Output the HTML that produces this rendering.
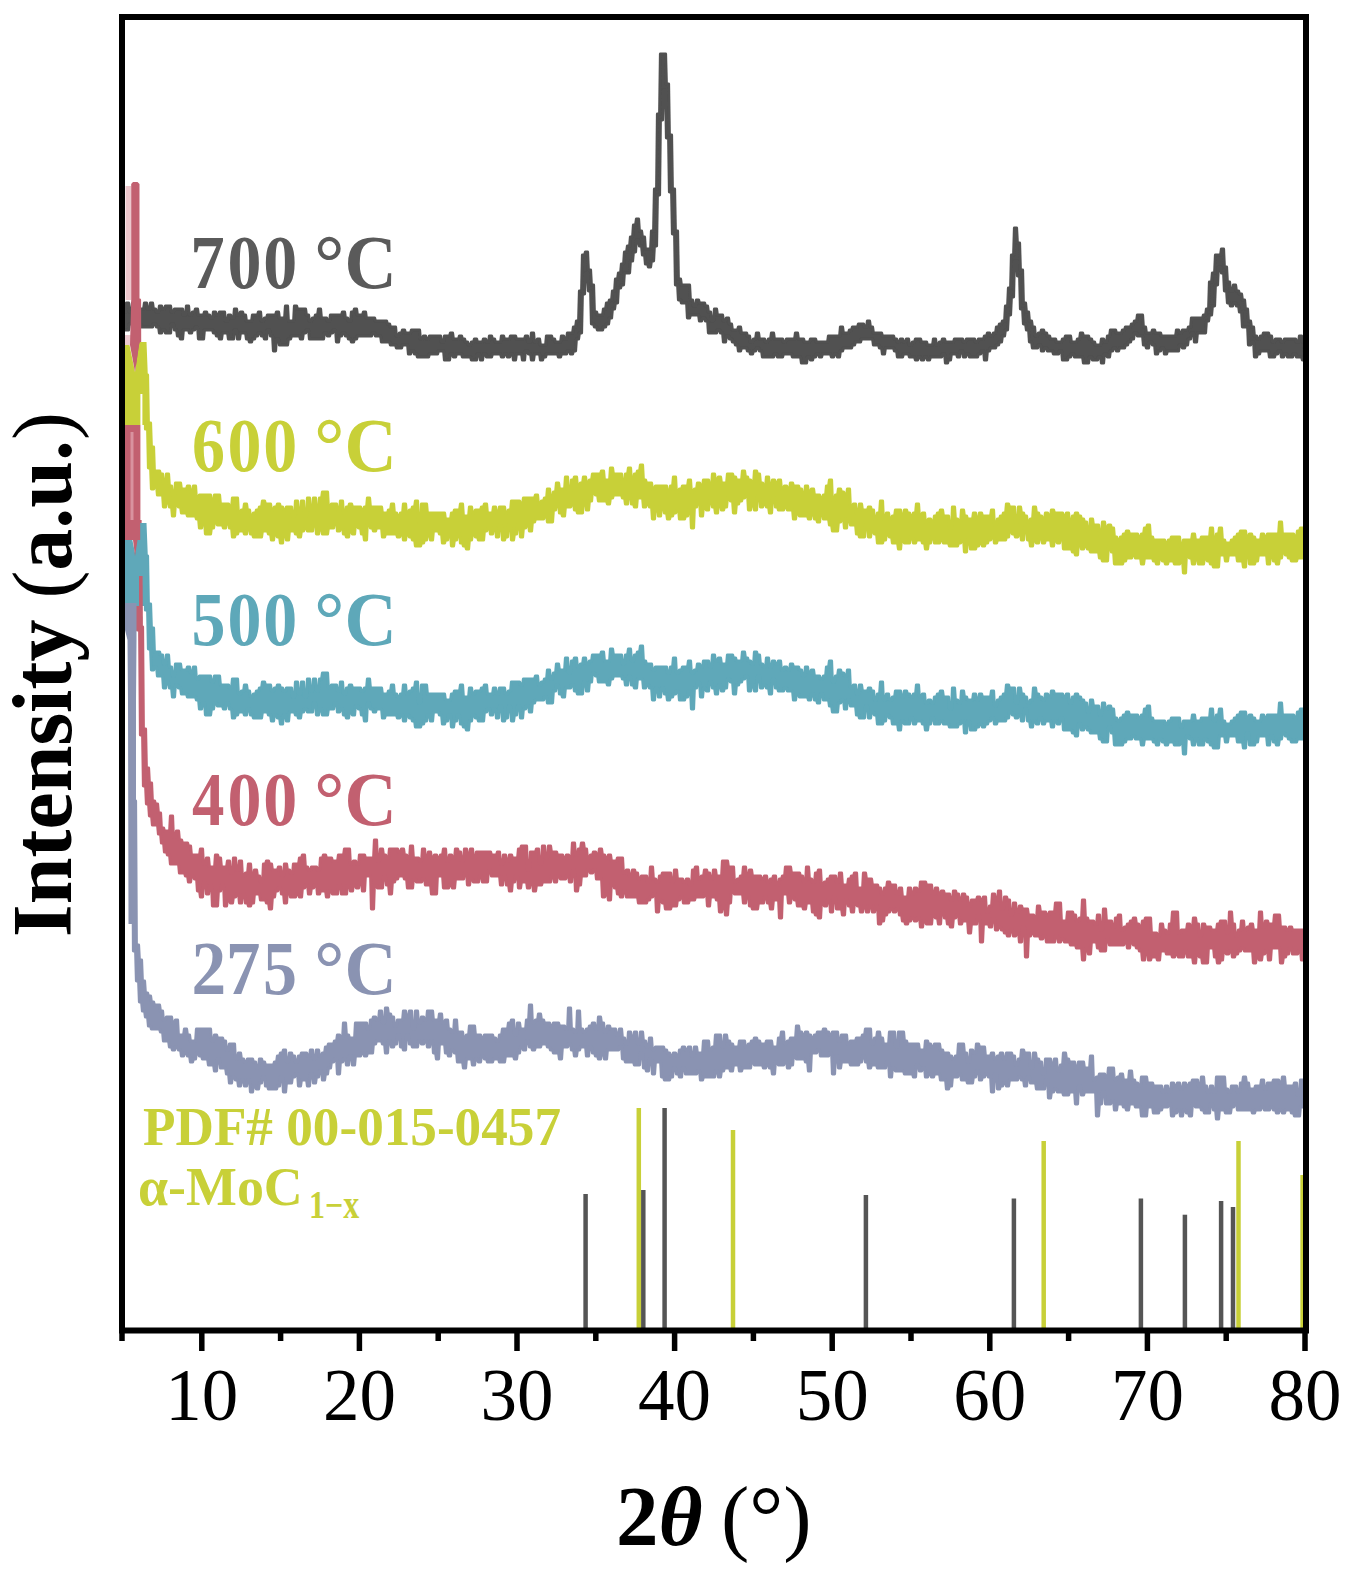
<!DOCTYPE html>
<html><head><meta charset="utf-8"><style>
html,body{margin:0;padding:0;background:#fff;}
svg{display:block;}
text{font-family:"Liberation Serif",serif;}
.tl{font-size:73px;}
.lab{font-size:76px;font-weight:bold;}
</style></head><body>
<svg width="1353" height="1581" viewBox="0 0 1353 1581">
<rect width="1353" height="1581" fill="#fff"/>
<defs><filter id="bl" x="-2%" y="-2%" width="104%" height="104%"><feGaussianBlur stdDeviation="0.6"/></filter><clipPath id="pc"><rect x="122" y="17" width="1184" height="1314"/></clipPath></defs>
<g clip-path="url(#pc)"><g filter="url(#bl)" stroke-linejoin="round">
<path d="M123.4,312.0 125.6,312.0 126.4,303.0 128.6,303.0 129.4,312.0 131.6,312.0 132.4,303.0 134.6,303.0 135.4,303.0 137.6,303.0 138.4,309.0 140.6,309.0 141.4,309.0 143.6,309.0 144.4,303.0 146.6,303.0 147.4,309.0 149.6,309.0 150.4,303.0 152.6,303.0 153.4,309.0 155.6,309.0 156.4,312.0 158.6,312.0 159.4,306.0 161.6,306.0 162.4,309.0 164.6,309.0 165.4,306.0 167.6,306.0 168.4,306.0 170.6,306.0 171.4,312.0 173.6,312.0 174.4,309.0 176.6,309.0 177.4,309.0 179.6,309.0 180.4,309.0 182.6,309.0 183.4,315.0 185.6,315.0 186.4,306.0 188.6,306.0 189.4,315.0 191.6,315.0 192.4,312.0 194.6,312.0 195.4,309.0 197.6,309.0 198.4,315.0 200.6,315.0 201.4,315.0 203.6,315.0 204.4,312.0 206.6,312.0 207.4,315.0 209.6,315.0 210.4,318.0 212.6,318.0 213.4,312.0 215.6,312.0 216.4,315.0 218.6,315.0 219.4,312.0 221.6,312.0 222.4,312.0 224.6,312.0 225.4,321.0 227.6,321.0 228.4,315.0 230.6,315.0 231.4,318.0 233.6,318.0 234.4,309.0 236.6,309.0 237.4,315.0 239.6,315.0 240.4,312.0 242.6,312.0 243.4,315.0 245.6,315.0 246.4,321.0 248.6,321.0 249.4,321.0 251.6,321.0 252.4,315.0 254.6,315.0 255.4,315.0 257.6,315.0 258.4,312.0 260.6,312.0 261.4,321.0 263.6,321.0 264.4,318.0 266.6,318.0 267.4,315.0 269.6,315.0 270.4,315.0 272.6,315.0 273.4,315.0 275.6,315.0 276.4,312.0 278.6,312.0 279.4,318.0 281.6,318.0 282.4,318.0 284.6,318.0 285.4,306.0 287.6,306.0 288.4,321.0 290.6,321.0 291.4,321.0 293.6,321.0 294.4,306.0 296.6,306.0 297.4,309.0 299.6,309.0 300.4,309.0 302.6,309.0 303.4,309.0 305.6,309.0 306.4,315.0 308.6,315.0 309.4,321.0 311.6,321.0 312.4,318.0 314.6,318.0 315.4,315.0 317.6,315.0 318.4,309.0 320.6,309.0 321.4,318.0 323.6,318.0 324.4,318.0 326.6,318.0 327.4,321.0 329.6,321.0 330.4,315.0 332.6,315.0 333.4,315.0 335.6,315.0 336.4,315.0 338.6,315.0 339.4,315.0 341.6,315.0 342.4,312.0 344.6,312.0 345.4,318.0 347.6,318.0 348.4,321.0 350.6,321.0 351.4,312.0 353.6,312.0 354.4,309.0 356.6,309.0 357.4,315.0 359.6,315.0 360.4,315.0 362.6,315.0 363.4,312.0 365.6,312.0 366.4,318.0 368.6,318.0 369.4,318.0 371.6,318.0 372.4,318.0 374.6,318.0 375.4,321.0 377.6,321.0 378.4,321.0 380.6,321.0 381.4,321.0 383.6,321.0 384.4,321.0 386.6,321.0 387.4,324.0 389.6,324.0 390.4,327.0 392.6,327.0 393.4,327.0 395.6,327.0 396.4,336.0 398.6,336.0 399.4,333.0 401.6,333.0 402.4,330.0 404.6,330.0 405.4,333.0 407.6,333.0 408.4,333.0 410.6,333.0 411.4,330.0 413.6,330.0 414.4,330.0 416.6,330.0 417.4,330.0 419.6,330.0 420.4,339.0 422.6,339.0 423.4,336.0 425.6,336.0 426.4,339.0 428.6,339.0 429.4,336.0 431.6,336.0 432.4,336.0 434.6,336.0 435.4,336.0 437.6,336.0 438.4,336.0 440.6,336.0 441.4,342.0 443.6,342.0 444.4,336.0 446.6,336.0 447.4,336.0 449.6,336.0 450.4,333.0 452.6,333.0 453.4,339.0 455.6,339.0 456.4,339.0 458.6,339.0 459.4,336.0 461.6,336.0 462.4,339.0 464.6,339.0 465.4,342.0 467.6,342.0 468.4,345.0 470.6,345.0 471.4,342.0 473.6,342.0 474.4,339.0 476.6,339.0 477.4,342.0 479.6,342.0 480.4,342.0 482.6,342.0 483.4,339.0 485.6,339.0 486.4,342.0 488.6,342.0 489.4,336.0 491.6,336.0 492.4,339.0 494.6,339.0 495.4,342.0 497.6,342.0 498.4,342.0 500.6,342.0 501.4,336.0 503.6,336.0 504.4,339.0 506.6,339.0 507.4,339.0 509.6,339.0 510.4,336.0 512.6,336.0 513.4,336.0 515.6,336.0 516.4,339.0 518.6,339.0 519.4,339.0 521.6,339.0 522.4,339.0 524.6,339.0 525.4,336.0 527.6,336.0 528.4,342.0 530.6,342.0 531.4,333.0 533.6,333.0 534.4,342.0 536.6,342.0 537.4,339.0 539.6,339.0 540.4,345.0 542.6,345.0 543.4,345.0 545.6,345.0 546.4,336.0 548.6,336.0 549.4,336.0 551.6,336.0 552.4,339.0 554.6,339.0 555.4,342.0 557.6,342.0 558.4,342.0 560.6,342.0 561.4,336.0 563.6,336.0 564.4,339.0 566.6,339.0 567.4,333.0 569.6,333.0 570.4,333.0 572.6,333.0 573.4,327.0 575.6,327.0 576.4,321.0 578.6,321.0 579.4,291.0 581.6,291.0 582.4,255.0 584.6,255.0 585.4,252.0 587.6,252.0 588.4,270.0 590.6,270.0 591.4,285.0 593.6,285.0 594.4,312.0 596.6,312.0 597.4,315.0 599.6,315.0 600.4,315.0 602.6,315.0 603.4,309.0 605.6,309.0 606.4,303.0 608.6,303.0 609.4,300.0 611.6,300.0 612.4,291.0 614.6,291.0 615.4,279.0 617.6,279.0 618.4,273.0 620.6,273.0 621.4,264.0 623.6,264.0 624.4,252.0 626.6,252.0 627.4,246.0 629.6,246.0 630.4,237.0 632.6,237.0 633.4,225.0 635.6,225.0 636.4,219.0 638.6,219.0 639.4,231.0 641.6,231.0 642.4,237.0 644.6,237.0 645.4,249.0 647.6,249.0 648.4,249.0 650.6,249.0 651.4,231.0 653.6,231.0 654.4,189.0 656.6,189.0 657.4,114.0 659.6,114.0 660.4,54.0 662.6,54.0 663.4,54.0 665.6,54.0 666.4,84.0 668.6,84.0 669.4,135.0 671.6,135.0 672.4,189.0 674.6,189.0 675.4,231.0 677.6,231.0 678.4,279.0 680.6,279.0 681.4,285.0 683.6,285.0 684.4,285.0 686.6,285.0 687.4,285.0 689.6,285.0 690.4,300.0 692.6,300.0 693.4,306.0 695.6,306.0 696.4,300.0 698.6,300.0 699.4,303.0 701.6,303.0 702.4,303.0 704.6,303.0 705.4,306.0 707.6,306.0 708.4,312.0 710.6,312.0 711.4,321.0 713.6,321.0 714.4,309.0 716.6,309.0 717.4,315.0 719.6,315.0 720.4,315.0 722.6,315.0 723.4,321.0 725.6,321.0 726.4,318.0 728.6,318.0 729.4,324.0 731.6,324.0 732.4,330.0 734.6,330.0 735.4,330.0 737.6,330.0 738.4,327.0 740.6,327.0 741.4,333.0 743.6,333.0 744.4,333.0 746.6,333.0 747.4,336.0 749.6,336.0 750.4,342.0 752.6,342.0 753.4,339.0 755.6,339.0 756.4,333.0 758.6,333.0 759.4,339.0 761.6,339.0 762.4,339.0 764.6,339.0 765.4,342.0 767.6,342.0 768.4,339.0 770.6,339.0 771.4,333.0 773.6,333.0 774.4,339.0 776.6,339.0 777.4,339.0 779.6,339.0 780.4,339.0 782.6,339.0 783.4,342.0 785.6,342.0 786.4,339.0 788.6,339.0 789.4,339.0 791.6,339.0 792.4,339.0 794.6,339.0 795.4,333.0 797.6,333.0 798.4,339.0 800.6,339.0 801.4,339.0 803.6,339.0 804.4,342.0 806.6,342.0 807.4,342.0 809.6,342.0 810.4,339.0 812.6,339.0 813.4,339.0 815.6,339.0 816.4,342.0 818.6,342.0 819.4,342.0 821.6,342.0 822.4,342.0 824.6,342.0 825.4,342.0 827.6,342.0 828.4,336.0 830.6,336.0 831.4,336.0 833.6,336.0 834.4,336.0 836.6,336.0 837.4,336.0 839.6,336.0 840.4,327.0 842.6,327.0 843.4,333.0 845.6,333.0 846.4,333.0 848.6,333.0 849.4,330.0 851.6,330.0 852.4,327.0 854.6,327.0 855.4,327.0 857.6,327.0 858.4,324.0 860.6,324.0 861.4,324.0 863.6,324.0 864.4,327.0 866.6,327.0 867.4,321.0 869.6,321.0 870.4,327.0 872.6,327.0 873.4,333.0 875.6,333.0 876.4,333.0 878.6,333.0 879.4,333.0 881.6,333.0 882.4,336.0 884.6,336.0 885.4,336.0 887.6,336.0 888.4,336.0 890.6,336.0 891.4,336.0 893.6,336.0 894.4,339.0 896.6,339.0 897.4,342.0 899.6,342.0 900.4,339.0 902.6,339.0 903.4,342.0 905.6,342.0 906.4,339.0 908.6,339.0 909.4,345.0 911.6,345.0 912.4,342.0 914.6,342.0 915.4,339.0 917.6,339.0 918.4,339.0 920.6,339.0 921.4,342.0 923.6,342.0 924.4,342.0 926.6,342.0 927.4,345.0 929.6,345.0 930.4,345.0 932.6,345.0 933.4,339.0 935.6,339.0 936.4,345.0 938.6,345.0 939.4,342.0 941.6,342.0 942.4,339.0 944.6,339.0 945.4,342.0 947.6,342.0 948.4,342.0 950.6,342.0 951.4,342.0 953.6,342.0 954.4,339.0 956.6,339.0 957.4,339.0 959.6,339.0 960.4,339.0 962.6,339.0 963.4,342.0 965.6,342.0 966.4,339.0 968.6,339.0 969.4,339.0 971.6,339.0 972.4,339.0 974.6,339.0 975.4,342.0 977.6,342.0 978.4,339.0 980.6,339.0 981.4,339.0 983.6,339.0 984.4,336.0 986.6,336.0 987.4,333.0 989.6,333.0 990.4,336.0 992.6,336.0 993.4,333.0 995.6,333.0 996.4,327.0 998.6,327.0 999.4,324.0 1001.6,324.0 1002.4,321.0 1004.6,321.0 1005.4,306.0 1007.6,306.0 1008.4,288.0 1010.6,288.0 1011.4,255.0 1013.6,255.0 1014.4,228.0 1016.6,228.0 1017.4,243.0 1019.6,243.0 1020.4,270.0 1022.6,270.0 1023.4,303.0 1025.6,303.0 1026.4,312.0 1028.6,312.0 1029.4,321.0 1031.6,321.0 1032.4,327.0 1034.6,327.0 1035.4,336.0 1037.6,336.0 1038.4,333.0 1040.6,333.0 1041.4,330.0 1043.6,330.0 1044.4,333.0 1046.6,333.0 1047.4,336.0 1049.6,336.0 1050.4,339.0 1052.6,339.0 1053.4,339.0 1055.6,339.0 1056.4,342.0 1058.6,342.0 1059.4,342.0 1061.6,342.0 1062.4,339.0 1064.6,339.0 1065.4,336.0 1067.6,336.0 1068.4,336.0 1070.6,336.0 1071.4,342.0 1073.6,342.0 1074.4,342.0 1076.6,342.0 1077.4,339.0 1079.6,339.0 1080.4,333.0 1082.6,333.0 1083.4,336.0 1085.6,336.0 1086.4,336.0 1088.6,336.0 1089.4,339.0 1091.6,339.0 1092.4,342.0 1094.6,342.0 1095.4,345.0 1097.6,345.0 1098.4,345.0 1100.6,345.0 1101.4,339.0 1103.6,339.0 1104.4,342.0 1106.6,342.0 1107.4,336.0 1109.6,336.0 1110.4,330.0 1112.6,330.0 1113.4,330.0 1115.6,330.0 1116.4,333.0 1118.6,333.0 1119.4,333.0 1121.6,333.0 1122.4,330.0 1124.6,330.0 1125.4,327.0 1127.6,327.0 1128.4,327.0 1130.6,327.0 1131.4,324.0 1133.6,324.0 1134.4,321.0 1136.6,321.0 1137.4,315.0 1139.6,315.0 1140.4,315.0 1142.6,315.0 1143.4,327.0 1145.6,327.0 1146.4,333.0 1148.6,333.0 1149.4,333.0 1151.6,333.0 1152.4,330.0 1154.6,330.0 1155.4,333.0 1157.6,333.0 1158.4,333.0 1160.6,333.0 1161.4,336.0 1163.6,336.0 1164.4,336.0 1166.6,336.0 1167.4,336.0 1169.6,336.0 1170.4,336.0 1172.6,336.0 1173.4,336.0 1175.6,336.0 1176.4,330.0 1178.6,330.0 1179.4,333.0 1181.6,333.0 1182.4,330.0 1184.6,330.0 1185.4,330.0 1187.6,330.0 1188.4,327.0 1190.6,327.0 1191.4,318.0 1193.6,318.0 1194.4,318.0 1196.6,318.0 1197.4,318.0 1199.6,318.0 1200.4,318.0 1202.6,318.0 1203.4,315.0 1205.6,315.0 1206.4,309.0 1208.6,309.0 1209.4,282.0 1211.6,282.0 1212.4,273.0 1214.6,273.0 1215.4,255.0 1217.6,255.0 1218.4,255.0 1220.6,255.0 1221.4,249.0 1223.6,249.0 1224.4,267.0 1226.6,267.0 1227.4,282.0 1229.6,282.0 1230.4,291.0 1232.6,291.0 1233.4,285.0 1235.6,285.0 1236.4,291.0 1238.6,291.0 1239.4,294.0 1241.6,294.0 1242.4,300.0 1244.6,300.0 1245.4,309.0 1247.6,309.0 1248.4,321.0 1250.6,321.0 1251.4,327.0 1253.6,327.0 1254.4,336.0 1256.6,336.0 1257.4,339.0 1259.6,339.0 1260.4,336.0 1262.6,336.0 1263.4,333.0 1265.6,333.0 1266.4,333.0 1268.6,333.0 1269.4,336.0 1271.6,336.0 1272.4,342.0 1274.6,342.0 1275.4,339.0 1277.6,339.0 1278.4,339.0 1280.6,339.0 1281.4,342.0 1283.6,342.0 1284.4,339.0 1286.6,339.0 1287.4,339.0 1289.6,339.0 1290.4,339.0 1292.6,339.0 1293.4,339.0 1295.6,339.0 1296.4,342.0 1298.6,342.0 1299.4,336.0 1301.6,336.0 1302.4,342.0 1304.6,342.0 1304.4,342.0 1305.6,342.0 1305.6,348.0 1304.4,348.0 1304.6,360.0 1302.4,360.0 1301.6,357.0 1299.4,357.0 1298.6,357.0 1296.4,357.0 1295.6,354.0 1293.4,354.0 1292.6,357.0 1290.4,357.0 1289.6,357.0 1287.4,357.0 1286.6,354.0 1284.4,354.0 1283.6,357.0 1281.4,357.0 1280.6,351.0 1278.4,351.0 1277.6,354.0 1275.4,354.0 1274.6,357.0 1272.4,357.0 1271.6,357.0 1269.4,357.0 1268.6,351.0 1266.4,351.0 1265.6,351.0 1263.4,351.0 1262.6,351.0 1260.4,351.0 1259.6,354.0 1257.4,354.0 1256.6,357.0 1254.4,357.0 1253.6,342.0 1251.4,342.0 1250.6,345.0 1248.4,345.0 1247.6,327.0 1245.4,327.0 1244.6,327.0 1242.4,327.0 1241.6,312.0 1239.4,312.0 1238.6,306.0 1236.4,306.0 1235.6,303.0 1233.4,303.0 1232.6,306.0 1230.4,306.0 1229.6,303.0 1227.4,303.0 1226.6,291.0 1224.4,291.0 1223.6,273.0 1221.4,273.0 1220.6,267.0 1218.4,267.0 1217.6,285.0 1215.4,285.0 1214.6,306.0 1212.4,306.0 1211.6,315.0 1209.4,315.0 1208.6,321.0 1206.4,321.0 1205.6,333.0 1203.4,333.0 1202.6,333.0 1200.4,333.0 1199.6,333.0 1197.4,333.0 1196.6,342.0 1194.4,342.0 1193.6,333.0 1191.4,333.0 1190.6,339.0 1188.4,339.0 1187.6,345.0 1185.4,345.0 1184.6,348.0 1182.4,348.0 1181.6,345.0 1179.4,345.0 1178.6,351.0 1176.4,351.0 1175.6,351.0 1173.4,351.0 1172.6,351.0 1170.4,351.0 1169.6,351.0 1167.4,351.0 1166.6,354.0 1164.4,354.0 1163.6,348.0 1161.4,348.0 1160.6,351.0 1158.4,351.0 1157.6,354.0 1155.4,354.0 1154.6,345.0 1152.4,345.0 1151.6,342.0 1149.4,342.0 1148.6,348.0 1146.4,348.0 1145.6,345.0 1143.4,345.0 1142.6,336.0 1140.4,336.0 1139.6,336.0 1137.4,336.0 1136.6,333.0 1134.4,333.0 1133.6,339.0 1131.4,339.0 1130.6,342.0 1128.4,342.0 1127.6,345.0 1125.4,345.0 1124.6,348.0 1122.4,348.0 1121.6,348.0 1119.4,348.0 1118.6,351.0 1116.4,351.0 1115.6,348.0 1113.4,348.0 1112.6,351.0 1110.4,351.0 1109.6,357.0 1107.4,357.0 1106.6,354.0 1104.4,354.0 1103.6,363.0 1101.4,363.0 1100.6,357.0 1098.4,357.0 1097.6,360.0 1095.4,360.0 1094.6,360.0 1092.4,360.0 1091.6,357.0 1089.4,357.0 1088.6,363.0 1086.4,363.0 1085.6,363.0 1083.4,363.0 1082.6,357.0 1080.4,357.0 1079.6,357.0 1077.4,357.0 1076.6,357.0 1074.4,357.0 1073.6,354.0 1071.4,354.0 1070.6,357.0 1068.4,357.0 1067.6,360.0 1065.4,360.0 1064.6,360.0 1062.4,360.0 1061.6,351.0 1059.4,351.0 1058.6,354.0 1056.4,354.0 1055.6,354.0 1053.4,354.0 1052.6,351.0 1050.4,351.0 1049.6,351.0 1047.4,351.0 1046.6,348.0 1044.4,348.0 1043.6,351.0 1041.4,351.0 1040.6,345.0 1038.4,345.0 1037.6,348.0 1035.4,348.0 1034.6,348.0 1032.4,348.0 1031.6,342.0 1029.4,342.0 1028.6,330.0 1026.4,330.0 1025.6,324.0 1023.4,324.0 1022.6,309.0 1020.4,309.0 1019.6,276.0 1017.4,276.0 1016.6,261.0 1014.4,261.0 1013.6,297.0 1011.4,297.0 1010.6,315.0 1008.4,315.0 1007.6,330.0 1005.4,330.0 1004.6,336.0 1002.4,336.0 1001.6,342.0 999.4,342.0 998.6,345.0 996.4,345.0 995.6,348.0 993.4,348.0 992.6,348.0 990.4,348.0 989.6,351.0 987.4,351.0 986.6,360.0 984.4,360.0 983.6,351.0 981.4,351.0 980.6,354.0 978.4,354.0 977.6,357.0 975.4,357.0 974.6,357.0 972.4,357.0 971.6,357.0 969.4,357.0 968.6,354.0 966.4,354.0 965.6,357.0 963.4,357.0 962.6,351.0 960.4,351.0 959.6,357.0 957.4,357.0 956.6,354.0 954.4,354.0 953.6,354.0 951.4,354.0 950.6,360.0 948.4,360.0 947.6,363.0 945.4,363.0 944.6,354.0 942.4,354.0 941.6,357.0 939.4,357.0 938.6,357.0 936.4,357.0 935.6,357.0 933.4,357.0 932.6,357.0 930.4,357.0 929.6,360.0 927.4,360.0 926.6,357.0 924.4,357.0 923.6,360.0 921.4,360.0 920.6,357.0 918.4,357.0 917.6,360.0 915.4,360.0 914.6,357.0 912.4,357.0 911.6,357.0 909.4,357.0 908.6,354.0 906.4,354.0 905.6,354.0 903.4,354.0 902.6,357.0 900.4,357.0 899.6,357.0 897.4,357.0 896.6,351.0 894.4,351.0 893.6,348.0 891.4,348.0 890.6,348.0 888.4,348.0 887.6,348.0 885.4,348.0 884.6,354.0 882.4,354.0 881.6,348.0 879.4,348.0 878.6,345.0 876.4,345.0 875.6,345.0 873.4,345.0 872.6,339.0 870.4,339.0 869.6,339.0 867.4,339.0 866.6,339.0 864.4,339.0 863.6,339.0 861.4,339.0 860.6,342.0 858.4,342.0 857.6,342.0 855.4,342.0 854.6,345.0 852.4,345.0 851.6,348.0 849.4,348.0 848.6,348.0 846.4,348.0 845.6,348.0 843.4,348.0 842.6,351.0 840.4,351.0 839.6,357.0 837.4,357.0 836.6,354.0 834.4,354.0 833.6,357.0 831.4,357.0 830.6,354.0 828.4,354.0 827.6,354.0 825.4,354.0 824.6,354.0 822.4,354.0 821.6,357.0 819.4,357.0 818.6,354.0 816.4,354.0 815.6,357.0 813.4,357.0 812.6,360.0 810.4,360.0 809.6,357.0 807.4,357.0 806.6,363.0 804.4,363.0 803.6,363.0 801.4,363.0 800.6,357.0 798.4,357.0 797.6,357.0 795.4,357.0 794.6,357.0 792.4,357.0 791.6,354.0 789.4,354.0 788.6,354.0 786.4,354.0 785.6,354.0 783.4,354.0 782.6,357.0 780.4,357.0 779.6,357.0 777.4,357.0 776.6,354.0 774.4,354.0 773.6,357.0 771.4,357.0 770.6,357.0 768.4,357.0 767.6,357.0 765.4,357.0 764.6,357.0 762.4,357.0 761.6,351.0 759.4,351.0 758.6,348.0 756.4,348.0 755.6,351.0 753.4,351.0 752.6,354.0 750.4,354.0 749.6,351.0 747.4,351.0 746.6,348.0 744.4,348.0 743.6,348.0 741.4,348.0 740.6,351.0 738.4,351.0 737.6,345.0 735.4,345.0 734.6,342.0 732.4,342.0 731.6,339.0 729.4,339.0 728.6,336.0 726.4,336.0 725.6,342.0 723.4,342.0 722.6,333.0 720.4,333.0 719.6,330.0 717.4,330.0 716.6,333.0 714.4,333.0 713.6,333.0 711.4,333.0 710.6,333.0 708.4,333.0 707.6,321.0 705.4,321.0 704.6,318.0 702.4,318.0 701.6,321.0 699.4,321.0 698.6,315.0 696.4,315.0 695.6,315.0 693.4,315.0 692.6,315.0 690.4,315.0 689.6,318.0 687.4,318.0 686.6,303.0 684.4,303.0 683.6,303.0 681.4,303.0 680.6,300.0 678.4,300.0 677.6,285.0 675.4,285.0 674.6,234.0 672.4,234.0 671.6,192.0 669.4,192.0 668.6,138.0 666.4,138.0 665.6,90.0 663.4,90.0 662.6,120.0 660.4,120.0 659.6,195.0 657.4,195.0 656.6,246.0 654.4,246.0 653.6,261.0 651.4,261.0 650.6,267.0 648.4,267.0 647.6,264.0 645.4,264.0 644.6,255.0 642.4,255.0 641.6,246.0 639.4,246.0 638.6,240.0 636.4,240.0 635.6,252.0 633.4,252.0 632.6,261.0 630.4,261.0 629.6,273.0 627.4,273.0 626.6,273.0 624.4,273.0 623.6,285.0 621.4,285.0 620.6,288.0 618.4,288.0 617.6,303.0 615.4,303.0 614.6,309.0 612.4,309.0 611.6,318.0 609.4,318.0 608.6,324.0 606.4,324.0 605.6,327.0 603.4,327.0 602.6,330.0 600.4,330.0 599.6,330.0 597.4,330.0 596.6,327.0 594.4,327.0 593.6,324.0 591.4,324.0 590.6,291.0 588.4,291.0 587.6,273.0 585.4,273.0 584.6,294.0 582.4,294.0 581.6,333.0 579.4,333.0 578.6,339.0 576.4,339.0 575.6,351.0 573.4,351.0 572.6,354.0 570.4,354.0 569.6,351.0 567.4,351.0 566.6,354.0 564.4,354.0 563.6,354.0 561.4,354.0 560.6,357.0 558.4,357.0 557.6,354.0 555.4,354.0 554.6,354.0 552.4,354.0 551.6,354.0 549.4,354.0 548.6,354.0 546.4,354.0 545.6,357.0 543.4,357.0 542.6,360.0 540.4,360.0 539.6,354.0 537.4,354.0 536.6,354.0 534.4,354.0 533.6,360.0 531.4,360.0 530.6,354.0 528.4,354.0 527.6,351.0 525.4,351.0 524.6,360.0 522.4,360.0 521.6,354.0 519.4,354.0 518.6,354.0 516.4,354.0 515.6,360.0 513.4,360.0 512.6,354.0 510.4,354.0 509.6,357.0 507.4,357.0 506.6,354.0 504.4,354.0 503.6,357.0 501.4,357.0 500.6,354.0 498.4,354.0 497.6,354.0 495.4,354.0 494.6,354.0 492.4,354.0 491.6,357.0 489.4,357.0 488.6,357.0 486.4,357.0 485.6,354.0 483.4,354.0 482.6,360.0 480.4,360.0 479.6,354.0 477.4,354.0 476.6,360.0 474.4,360.0 473.6,360.0 471.4,360.0 470.6,357.0 468.4,357.0 467.6,357.0 465.4,357.0 464.6,357.0 462.4,357.0 461.6,354.0 459.4,354.0 458.6,354.0 456.4,354.0 455.6,357.0 453.4,357.0 452.6,354.0 450.4,354.0 449.6,360.0 447.4,360.0 446.6,360.0 444.4,360.0 443.6,351.0 441.4,351.0 440.6,351.0 438.4,351.0 437.6,354.0 435.4,354.0 434.6,354.0 432.4,354.0 431.6,354.0 429.4,354.0 428.6,357.0 426.4,357.0 425.6,357.0 423.4,357.0 422.6,357.0 420.4,357.0 419.6,357.0 417.4,357.0 416.6,354.0 414.4,354.0 413.6,351.0 411.4,351.0 410.6,354.0 408.4,354.0 407.6,345.0 405.4,345.0 404.6,345.0 402.4,345.0 401.6,348.0 399.4,348.0 398.6,348.0 396.4,348.0 395.6,345.0 393.4,345.0 392.6,345.0 390.4,345.0 389.6,342.0 387.4,342.0 386.6,342.0 384.4,342.0 383.6,342.0 381.4,342.0 380.6,336.0 378.4,336.0 377.6,336.0 375.4,336.0 374.6,333.0 372.4,333.0 371.6,336.0 369.4,336.0 368.6,336.0 366.4,336.0 365.6,336.0 363.4,336.0 362.6,336.0 360.4,336.0 359.6,336.0 357.4,336.0 356.6,339.0 354.4,339.0 353.6,342.0 351.4,342.0 350.6,339.0 348.4,339.0 347.6,336.0 345.4,336.0 344.6,333.0 342.4,333.0 341.6,336.0 339.4,336.0 338.6,342.0 336.4,342.0 335.6,330.0 333.4,330.0 332.6,333.0 330.4,333.0 329.6,336.0 327.4,336.0 326.6,333.0 324.4,333.0 323.6,339.0 321.4,339.0 320.6,339.0 318.4,339.0 317.6,339.0 315.4,339.0 314.6,339.0 312.4,339.0 311.6,339.0 309.4,339.0 308.6,330.0 306.4,330.0 305.6,333.0 303.4,333.0 302.6,339.0 300.4,339.0 299.6,336.0 297.4,336.0 296.6,336.0 294.4,336.0 293.6,336.0 291.4,336.0 290.6,339.0 288.4,339.0 287.6,345.0 285.4,345.0 284.6,345.0 282.4,345.0 281.6,345.0 279.4,345.0 278.6,339.0 276.4,339.0 275.6,351.0 273.4,351.0 272.6,336.0 270.4,336.0 269.6,330.0 267.4,330.0 266.6,339.0 264.4,339.0 263.6,336.0 261.4,336.0 260.6,333.0 258.4,333.0 257.6,336.0 255.4,336.0 254.6,339.0 252.4,339.0 251.6,342.0 249.4,342.0 248.6,339.0 246.4,339.0 245.6,333.0 243.4,333.0 242.6,333.0 240.4,333.0 239.6,339.0 237.4,339.0 236.6,330.0 234.4,330.0 233.6,339.0 231.4,339.0 230.6,339.0 228.4,339.0 227.6,333.0 225.4,333.0 224.6,333.0 222.4,333.0 221.6,339.0 219.4,339.0 218.6,336.0 216.4,336.0 215.6,333.0 213.4,333.0 212.6,330.0 210.4,330.0 209.6,330.0 207.4,330.0 206.6,330.0 204.4,330.0 203.6,339.0 201.4,339.0 200.6,339.0 198.4,339.0 197.6,327.0 195.4,327.0 194.6,330.0 192.4,330.0 191.6,333.0 189.4,333.0 188.6,330.0 186.4,330.0 185.6,330.0 183.4,330.0 182.6,339.0 180.4,339.0 179.6,336.0 177.4,336.0 176.6,330.0 174.4,330.0 173.6,324.0 171.4,324.0 170.6,333.0 168.4,333.0 167.6,333.0 165.4,333.0 164.6,330.0 162.4,330.0 161.6,333.0 159.4,333.0 158.6,327.0 156.4,327.0 155.6,324.0 153.4,324.0 152.6,327.0 150.4,327.0 149.6,327.0 147.4,327.0 146.6,327.0 144.4,327.0 143.6,327.0 141.4,327.0 140.6,324.0 138.4,324.0 137.6,324.0 135.4,324.0 134.6,324.0 132.4,324.0 131.6,324.0 129.4,324.0 128.6,330.0 126.4,330.0 125.6,330.0 123.4,330.0Z" fill="#515151" stroke="#515151" stroke-width="3.0"/>
<path d="M137.4,300.0 139.6,300.0 140.4,627.0 142.6,627.0 143.4,729.0 145.6,729.0 146.4,768.0 148.6,768.0 149.4,783.0 151.6,783.0 152.4,801.0 154.6,801.0 155.4,804.0 157.6,804.0 158.4,813.0 160.6,813.0 161.4,828.0 163.6,828.0 164.4,831.0 166.6,831.0 167.4,831.0 169.6,831.0 170.4,816.0 172.6,816.0 173.4,837.0 175.6,837.0 176.4,831.0 178.6,831.0 179.4,840.0 181.6,840.0 182.4,843.0 184.6,843.0 185.4,843.0 187.6,843.0 188.4,846.0 190.6,846.0 191.4,855.0 193.6,855.0 194.4,855.0 196.6,855.0 197.4,855.0 199.6,855.0 200.4,849.0 202.6,849.0 203.4,864.0 205.6,864.0 206.4,858.0 208.6,858.0 209.4,867.0 211.6,867.0 212.4,867.0 214.6,867.0 215.4,855.0 217.6,855.0 218.4,858.0 220.6,858.0 221.4,867.0 223.6,867.0 224.4,867.0 226.6,867.0 227.4,861.0 229.6,861.0 230.4,873.0 232.6,873.0 233.4,858.0 235.6,858.0 236.4,870.0 238.6,870.0 239.4,861.0 241.6,861.0 242.4,876.0 244.6,876.0 245.4,873.0 247.6,873.0 248.4,864.0 250.6,864.0 251.4,876.0 253.6,876.0 254.4,870.0 256.6,870.0 257.4,876.0 259.6,876.0 260.4,882.0 262.6,882.0 263.4,864.0 265.6,864.0 266.4,861.0 268.6,861.0 269.4,864.0 271.6,864.0 272.4,870.0 274.6,870.0 275.4,870.0 277.6,870.0 278.4,867.0 280.6,867.0 281.4,876.0 283.6,876.0 284.4,864.0 286.6,864.0 287.4,870.0 289.6,870.0 290.4,873.0 292.6,873.0 293.4,864.0 295.6,864.0 296.4,864.0 298.6,864.0 299.4,858.0 301.6,858.0 302.4,855.0 304.6,855.0 305.4,867.0 307.6,867.0 308.4,870.0 310.6,870.0 311.4,867.0 313.6,867.0 314.4,867.0 316.6,867.0 317.4,870.0 319.6,870.0 320.4,858.0 322.6,858.0 323.4,855.0 325.6,855.0 326.4,858.0 328.6,858.0 329.4,858.0 331.6,858.0 332.4,861.0 334.6,861.0 335.4,861.0 337.6,861.0 338.4,855.0 340.6,855.0 341.4,855.0 343.6,855.0 344.4,849.0 346.6,849.0 347.4,849.0 349.6,849.0 350.4,864.0 352.6,864.0 353.4,861.0 355.6,861.0 356.4,864.0 358.6,864.0 359.4,855.0 361.6,855.0 362.4,855.0 364.6,855.0 365.4,858.0 367.6,858.0 368.4,858.0 370.6,858.0 371.4,858.0 373.6,858.0 374.4,840.0 376.6,840.0 377.4,861.0 379.6,861.0 380.4,849.0 382.6,849.0 383.4,855.0 385.6,855.0 386.4,858.0 388.6,858.0 389.4,849.0 391.6,849.0 392.4,849.0 394.6,849.0 395.4,849.0 397.6,849.0 398.4,852.0 400.6,852.0 401.4,849.0 403.6,849.0 404.4,855.0 406.6,855.0 407.4,858.0 409.6,858.0 410.4,846.0 412.6,846.0 413.4,858.0 415.6,858.0 416.4,858.0 418.6,858.0 419.4,861.0 421.6,861.0 422.4,849.0 424.6,849.0 425.4,858.0 427.6,858.0 428.4,852.0 430.6,852.0 431.4,858.0 433.6,858.0 434.4,855.0 436.6,855.0 437.4,858.0 439.6,858.0 440.4,855.0 442.6,855.0 443.4,849.0 445.6,849.0 446.4,861.0 448.6,861.0 449.4,855.0 451.6,855.0 452.4,858.0 454.6,858.0 455.4,849.0 457.6,849.0 458.4,852.0 460.6,852.0 461.4,861.0 463.6,861.0 464.4,849.0 466.6,849.0 467.4,855.0 469.6,855.0 470.4,849.0 472.6,849.0 473.4,858.0 475.6,858.0 476.4,852.0 478.6,852.0 479.4,852.0 481.6,852.0 482.4,852.0 484.6,852.0 485.4,852.0 487.6,852.0 488.4,852.0 490.6,852.0 491.4,855.0 493.6,855.0 494.4,855.0 496.6,855.0 497.4,852.0 499.6,852.0 500.4,864.0 502.6,864.0 503.4,855.0 505.6,855.0 506.4,861.0 508.6,861.0 509.4,855.0 511.6,855.0 512.4,858.0 514.6,858.0 515.4,858.0 517.6,858.0 518.4,849.0 520.6,849.0 521.4,846.0 523.6,846.0 524.4,846.0 526.6,846.0 527.4,870.0 529.6,870.0 530.4,852.0 532.6,852.0 533.4,852.0 535.6,852.0 536.4,849.0 538.6,849.0 539.4,864.0 541.6,864.0 542.4,846.0 544.6,846.0 545.4,858.0 547.6,858.0 548.4,846.0 550.6,846.0 551.4,852.0 553.6,852.0 554.4,852.0 556.6,852.0 557.4,855.0 559.6,855.0 560.4,855.0 562.6,855.0 563.4,858.0 565.6,858.0 566.4,855.0 568.6,855.0 569.4,858.0 571.6,858.0 572.4,843.0 574.6,843.0 575.4,855.0 577.6,855.0 578.4,849.0 580.6,849.0 581.4,843.0 583.6,843.0 584.4,849.0 586.6,849.0 587.4,858.0 589.6,858.0 590.4,855.0 592.6,855.0 593.4,852.0 595.6,852.0 596.4,855.0 598.6,855.0 599.4,849.0 601.6,849.0 602.4,855.0 604.6,855.0 605.4,858.0 607.6,858.0 608.4,855.0 610.6,855.0 611.4,861.0 613.6,861.0 614.4,861.0 616.6,861.0 617.4,858.0 619.6,858.0 620.4,858.0 622.6,858.0 623.4,873.0 625.6,873.0 626.4,870.0 628.6,870.0 629.4,876.0 631.6,876.0 632.4,870.0 634.6,870.0 635.4,873.0 637.6,873.0 638.4,879.0 640.6,879.0 641.4,876.0 643.6,876.0 644.4,876.0 646.6,876.0 647.4,882.0 649.6,882.0 650.4,867.0 652.6,867.0 653.4,879.0 655.6,879.0 656.4,882.0 658.6,882.0 659.4,876.0 661.6,876.0 662.4,873.0 664.6,873.0 665.4,873.0 667.6,873.0 668.4,873.0 670.6,873.0 671.4,882.0 673.6,882.0 674.4,870.0 676.6,870.0 677.4,879.0 679.6,879.0 680.4,879.0 682.6,879.0 683.4,882.0 685.6,882.0 686.4,879.0 688.6,879.0 689.4,885.0 691.6,885.0 692.4,870.0 694.6,870.0 695.4,867.0 697.6,867.0 698.4,879.0 700.6,879.0 701.4,876.0 703.6,876.0 704.4,870.0 706.6,870.0 707.4,873.0 709.6,873.0 710.4,879.0 712.6,879.0 713.4,870.0 715.6,870.0 716.4,876.0 718.6,876.0 719.4,876.0 721.6,876.0 722.4,861.0 724.6,861.0 725.4,861.0 727.6,861.0 728.4,867.0 730.6,867.0 731.4,867.0 733.6,867.0 734.4,882.0 736.6,882.0 737.4,879.0 739.6,879.0 740.4,876.0 742.6,876.0 743.4,867.0 745.6,867.0 746.4,876.0 748.6,876.0 749.4,870.0 751.6,870.0 752.4,876.0 754.6,876.0 755.4,876.0 757.6,876.0 758.4,876.0 760.6,876.0 761.4,879.0 763.6,879.0 764.4,876.0 766.6,876.0 767.4,882.0 769.6,882.0 770.4,879.0 772.6,879.0 773.4,876.0 775.6,876.0 776.4,885.0 778.6,885.0 779.4,879.0 781.6,879.0 782.4,876.0 784.6,876.0 785.4,867.0 787.6,867.0 788.4,867.0 790.6,867.0 791.4,873.0 793.6,873.0 794.4,873.0 796.6,873.0 797.4,873.0 799.6,873.0 800.4,876.0 802.6,876.0 803.4,882.0 805.6,882.0 806.4,867.0 808.6,867.0 809.4,879.0 811.6,879.0 812.4,882.0 814.6,882.0 815.4,873.0 817.6,873.0 818.4,870.0 820.6,870.0 821.4,885.0 823.6,885.0 824.4,882.0 826.6,882.0 827.4,879.0 829.6,879.0 830.4,876.0 832.6,876.0 833.4,876.0 835.6,876.0 836.4,882.0 838.6,882.0 839.4,873.0 841.6,873.0 842.4,885.0 844.6,885.0 845.4,885.0 847.6,885.0 848.4,879.0 850.6,879.0 851.4,876.0 853.6,876.0 854.4,873.0 856.6,873.0 857.4,888.0 859.6,888.0 860.4,888.0 862.6,888.0 863.4,873.0 865.6,873.0 866.4,879.0 868.6,879.0 869.4,879.0 871.6,879.0 872.4,885.0 874.6,885.0 875.4,885.0 877.6,885.0 878.4,888.0 880.6,888.0 881.4,894.0 883.6,894.0 884.4,888.0 886.6,888.0 887.4,882.0 889.6,882.0 890.4,885.0 892.6,885.0 893.4,885.0 895.6,885.0 896.4,894.0 898.6,894.0 899.4,888.0 901.6,888.0 902.4,897.0 904.6,897.0 905.4,897.0 907.6,897.0 908.4,888.0 910.6,888.0 911.4,894.0 913.6,894.0 914.4,888.0 916.6,888.0 917.4,891.0 919.6,891.0 920.4,882.0 922.6,882.0 923.4,882.0 925.6,882.0 926.4,885.0 928.6,885.0 929.4,885.0 931.6,885.0 932.4,894.0 934.6,894.0 935.4,888.0 937.6,888.0 938.4,894.0 940.6,894.0 941.4,891.0 943.6,891.0 944.4,894.0 946.6,894.0 947.4,894.0 949.6,894.0 950.4,900.0 952.6,900.0 953.4,891.0 955.6,891.0 956.4,894.0 958.6,894.0 959.4,900.0 961.6,900.0 962.4,894.0 964.6,894.0 965.4,897.0 967.6,897.0 968.4,906.0 970.6,906.0 971.4,900.0 973.6,900.0 974.4,900.0 976.6,900.0 977.4,897.0 979.6,897.0 980.4,900.0 982.6,900.0 983.4,897.0 985.6,897.0 986.4,912.0 988.6,912.0 989.4,906.0 991.6,906.0 992.4,894.0 994.6,894.0 995.4,900.0 997.6,900.0 998.4,891.0 1000.6,891.0 1001.4,909.0 1003.6,909.0 1004.4,897.0 1006.6,897.0 1007.4,900.0 1009.6,900.0 1010.4,915.0 1012.6,915.0 1013.4,903.0 1015.6,903.0 1016.4,912.0 1018.6,912.0 1019.4,906.0 1021.6,906.0 1022.4,909.0 1024.6,909.0 1025.4,909.0 1027.6,909.0 1028.4,915.0 1030.6,915.0 1031.4,915.0 1033.6,915.0 1034.4,918.0 1036.6,918.0 1037.4,906.0 1039.6,906.0 1040.4,912.0 1042.6,912.0 1043.4,912.0 1045.6,912.0 1046.4,915.0 1048.6,915.0 1049.4,912.0 1051.6,912.0 1052.4,912.0 1054.6,912.0 1055.4,903.0 1057.6,903.0 1058.4,903.0 1060.6,903.0 1061.4,921.0 1063.6,921.0 1064.4,921.0 1066.6,921.0 1067.4,912.0 1069.6,912.0 1070.4,912.0 1072.6,912.0 1073.4,915.0 1075.6,915.0 1076.4,921.0 1078.6,921.0 1079.4,918.0 1081.6,918.0 1082.4,900.0 1084.6,900.0 1085.4,918.0 1087.6,918.0 1088.4,921.0 1090.6,921.0 1091.4,921.0 1093.6,921.0 1094.4,924.0 1096.6,924.0 1097.4,915.0 1099.6,915.0 1100.4,930.0 1102.6,930.0 1103.4,909.0 1105.6,909.0 1106.4,921.0 1108.6,921.0 1109.4,921.0 1111.6,921.0 1112.4,927.0 1114.6,927.0 1115.4,918.0 1117.6,918.0 1118.4,915.0 1120.6,915.0 1121.4,930.0 1123.6,930.0 1124.4,927.0 1126.6,927.0 1127.4,924.0 1129.6,924.0 1130.4,921.0 1132.6,921.0 1133.4,918.0 1135.6,918.0 1136.4,924.0 1138.6,924.0 1139.4,927.0 1141.6,927.0 1142.4,921.0 1144.6,921.0 1145.4,918.0 1147.6,918.0 1148.4,918.0 1150.6,918.0 1151.4,933.0 1153.6,933.0 1154.4,933.0 1156.6,933.0 1157.4,936.0 1159.6,936.0 1160.4,924.0 1162.6,924.0 1163.4,930.0 1165.6,930.0 1166.4,933.0 1168.6,933.0 1169.4,924.0 1171.6,924.0 1172.4,912.0 1174.6,912.0 1175.4,912.0 1177.6,912.0 1178.4,933.0 1180.6,933.0 1181.4,930.0 1183.6,930.0 1184.4,930.0 1186.6,930.0 1187.4,924.0 1189.6,924.0 1190.4,927.0 1192.6,927.0 1193.4,918.0 1195.6,918.0 1196.4,924.0 1198.6,924.0 1199.4,936.0 1201.6,936.0 1202.4,924.0 1204.6,924.0 1205.4,927.0 1207.6,927.0 1208.4,927.0 1210.6,927.0 1211.4,930.0 1213.6,930.0 1214.4,930.0 1216.6,930.0 1217.4,924.0 1219.6,924.0 1220.4,921.0 1222.6,921.0 1223.4,921.0 1225.6,921.0 1226.4,933.0 1228.6,933.0 1229.4,912.0 1231.6,912.0 1232.4,924.0 1234.6,924.0 1235.4,936.0 1237.6,936.0 1238.4,930.0 1240.6,930.0 1241.4,921.0 1243.6,921.0 1244.4,930.0 1246.6,930.0 1247.4,927.0 1249.6,927.0 1250.4,924.0 1252.6,924.0 1253.4,930.0 1255.6,930.0 1256.4,930.0 1258.6,930.0 1259.4,912.0 1261.6,912.0 1262.4,927.0 1264.6,927.0 1265.4,921.0 1267.6,921.0 1268.4,924.0 1270.6,924.0 1271.4,924.0 1273.6,924.0 1274.4,915.0 1276.6,915.0 1277.4,915.0 1279.6,915.0 1280.4,927.0 1282.6,927.0 1283.4,927.0 1285.6,927.0 1286.4,930.0 1288.6,930.0 1289.4,927.0 1291.6,927.0 1292.4,930.0 1294.6,930.0 1295.4,930.0 1297.6,930.0 1298.4,930.0 1300.6,930.0 1301.4,930.0 1303.6,930.0 1303.9,933.0 1305.6,933.0 1305.6,942.0 1303.9,942.0 1303.6,960.0 1301.4,960.0 1300.6,951.0 1298.4,951.0 1297.6,954.0 1295.4,954.0 1294.6,954.0 1292.4,954.0 1291.6,948.0 1289.4,948.0 1288.6,954.0 1286.4,954.0 1285.6,957.0 1283.4,957.0 1282.6,963.0 1280.4,963.0 1279.6,948.0 1277.4,948.0 1276.6,948.0 1274.4,948.0 1273.6,948.0 1271.4,948.0 1270.6,960.0 1268.4,960.0 1267.6,951.0 1265.4,951.0 1264.6,954.0 1262.4,954.0 1261.6,960.0 1259.4,960.0 1258.6,957.0 1256.4,957.0 1255.6,963.0 1253.4,963.0 1252.6,951.0 1250.4,951.0 1249.6,951.0 1247.4,951.0 1246.6,951.0 1244.4,951.0 1243.6,948.0 1241.4,948.0 1240.6,951.0 1238.4,951.0 1237.6,954.0 1235.4,954.0 1234.6,957.0 1232.4,957.0 1231.6,951.0 1229.4,951.0 1228.6,954.0 1226.4,954.0 1225.6,951.0 1223.4,951.0 1222.6,960.0 1220.4,960.0 1219.6,963.0 1217.4,963.0 1216.6,957.0 1214.4,957.0 1213.6,948.0 1211.4,948.0 1210.6,948.0 1208.4,948.0 1207.6,963.0 1205.4,963.0 1204.6,963.0 1202.4,963.0 1201.6,957.0 1199.4,957.0 1198.6,954.0 1196.4,954.0 1195.6,963.0 1193.4,963.0 1192.6,957.0 1190.4,957.0 1189.6,957.0 1187.4,957.0 1186.6,951.0 1184.4,951.0 1183.6,957.0 1181.4,957.0 1180.6,957.0 1178.4,957.0 1177.6,954.0 1175.4,954.0 1174.6,957.0 1172.4,957.0 1171.6,954.0 1169.4,954.0 1168.6,954.0 1166.4,954.0 1165.6,951.0 1163.4,951.0 1162.6,951.0 1160.4,951.0 1159.6,960.0 1157.4,960.0 1156.6,957.0 1154.4,957.0 1153.6,957.0 1151.4,957.0 1150.6,960.0 1148.4,960.0 1147.6,951.0 1145.4,951.0 1144.6,960.0 1142.4,960.0 1141.6,951.0 1139.4,951.0 1138.6,948.0 1136.4,948.0 1135.6,945.0 1133.4,945.0 1132.6,942.0 1130.4,942.0 1129.6,948.0 1127.4,948.0 1126.6,942.0 1124.4,942.0 1123.6,945.0 1121.4,945.0 1120.6,945.0 1118.4,945.0 1117.6,945.0 1115.4,945.0 1114.6,945.0 1112.4,945.0 1111.6,945.0 1109.4,945.0 1108.6,939.0 1106.4,939.0 1105.6,951.0 1103.4,951.0 1102.6,951.0 1100.4,951.0 1099.6,948.0 1097.4,948.0 1096.6,942.0 1094.4,942.0 1093.6,942.0 1091.4,942.0 1090.6,954.0 1088.4,954.0 1087.6,948.0 1085.4,948.0 1084.6,960.0 1082.4,960.0 1081.6,948.0 1079.4,948.0 1078.6,948.0 1076.4,948.0 1075.6,945.0 1073.4,945.0 1072.6,945.0 1070.4,945.0 1069.6,942.0 1067.4,942.0 1066.6,942.0 1064.4,942.0 1063.6,939.0 1061.4,939.0 1060.6,942.0 1058.4,942.0 1057.6,936.0 1055.4,936.0 1054.6,942.0 1052.4,942.0 1051.6,942.0 1049.4,942.0 1048.6,942.0 1046.4,942.0 1045.6,936.0 1043.4,936.0 1042.6,939.0 1040.4,939.0 1039.6,936.0 1037.4,936.0 1036.6,936.0 1034.4,936.0 1033.6,933.0 1031.4,933.0 1030.6,936.0 1028.4,936.0 1027.6,957.0 1025.4,957.0 1024.6,927.0 1022.4,927.0 1021.6,942.0 1019.4,942.0 1018.6,933.0 1016.4,933.0 1015.6,936.0 1013.4,936.0 1012.6,930.0 1010.4,930.0 1009.6,936.0 1007.4,936.0 1006.6,933.0 1004.4,933.0 1003.6,930.0 1001.4,930.0 1000.6,927.0 998.4,927.0 997.6,930.0 995.4,930.0 994.6,918.0 992.4,918.0 991.6,927.0 989.4,927.0 988.6,924.0 986.4,924.0 985.6,924.0 983.4,924.0 982.6,942.0 980.4,942.0 979.6,915.0 977.4,915.0 976.6,924.0 974.4,924.0 973.6,924.0 971.4,924.0 970.6,933.0 968.4,933.0 967.6,921.0 965.4,921.0 964.6,921.0 962.4,921.0 961.6,924.0 959.4,924.0 958.6,915.0 956.4,915.0 955.6,918.0 953.4,918.0 952.6,927.0 950.4,927.0 949.6,924.0 947.4,924.0 946.6,918.0 944.4,918.0 943.6,912.0 941.4,912.0 940.6,924.0 938.4,924.0 937.6,918.0 935.4,918.0 934.6,915.0 932.4,915.0 931.6,924.0 929.4,924.0 928.6,924.0 926.4,924.0 925.6,921.0 923.4,921.0 922.6,927.0 920.4,927.0 919.6,918.0 917.4,918.0 916.6,921.0 914.4,921.0 913.6,918.0 911.4,918.0 910.6,921.0 908.4,921.0 907.6,924.0 905.4,924.0 904.6,921.0 902.4,921.0 901.6,915.0 899.4,915.0 898.6,909.0 896.4,909.0 895.6,912.0 893.4,912.0 892.6,909.0 890.4,909.0 889.6,912.0 887.4,912.0 886.6,915.0 884.4,915.0 883.6,921.0 881.4,921.0 880.6,924.0 878.4,924.0 877.6,906.0 875.4,906.0 874.6,912.0 872.4,912.0 871.6,906.0 869.4,906.0 868.6,912.0 866.4,912.0 865.6,906.0 863.4,906.0 862.6,912.0 860.4,912.0 859.6,906.0 857.4,906.0 856.6,903.0 854.4,903.0 853.6,912.0 851.4,912.0 850.6,906.0 848.4,906.0 847.6,900.0 845.4,900.0 844.6,915.0 842.4,915.0 841.6,909.0 839.4,909.0 838.6,909.0 836.4,909.0 835.6,897.0 833.4,897.0 832.6,912.0 830.4,912.0 829.6,900.0 827.4,900.0 826.6,906.0 824.4,906.0 823.6,903.0 821.4,903.0 820.6,918.0 818.4,918.0 817.6,915.0 815.4,915.0 814.6,912.0 812.4,912.0 811.6,903.0 809.4,903.0 808.6,903.0 806.4,903.0 805.6,909.0 803.4,909.0 802.6,906.0 800.4,906.0 799.6,906.0 797.4,906.0 796.6,900.0 794.4,900.0 793.6,897.0 791.4,897.0 790.6,903.0 788.4,903.0 787.6,894.0 785.4,894.0 784.6,894.0 782.4,894.0 781.6,918.0 779.4,918.0 778.6,900.0 776.4,900.0 775.6,900.0 773.4,900.0 772.6,909.0 770.4,909.0 769.6,903.0 767.4,903.0 766.6,897.0 764.4,897.0 763.6,903.0 761.4,903.0 760.6,903.0 758.4,903.0 757.6,909.0 755.4,909.0 754.6,909.0 752.4,909.0 751.6,906.0 749.4,906.0 748.6,894.0 746.4,894.0 745.6,903.0 743.4,903.0 742.6,894.0 740.4,894.0 739.6,894.0 737.4,894.0 736.6,894.0 734.4,894.0 733.6,891.0 731.4,891.0 730.6,903.0 728.4,903.0 727.6,915.0 725.4,915.0 724.6,906.0 722.4,906.0 721.6,912.0 719.4,912.0 718.6,900.0 716.4,900.0 715.6,897.0 713.4,897.0 712.6,897.0 710.4,897.0 709.6,906.0 707.4,906.0 706.6,894.0 704.4,894.0 703.6,897.0 701.4,897.0 700.6,897.0 698.4,897.0 697.6,897.0 695.4,897.0 694.6,900.0 692.4,900.0 691.6,900.0 689.4,900.0 688.6,903.0 686.4,903.0 685.6,903.0 683.4,903.0 682.6,897.0 680.4,897.0 679.6,900.0 677.4,900.0 676.6,906.0 674.4,906.0 673.6,906.0 671.4,906.0 670.6,909.0 668.4,909.0 667.6,909.0 665.4,909.0 664.6,903.0 662.4,903.0 661.6,900.0 659.4,900.0 658.6,912.0 656.4,912.0 655.6,894.0 653.4,894.0 652.6,897.0 650.4,897.0 649.6,900.0 647.4,900.0 646.6,903.0 644.4,903.0 643.6,903.0 641.4,903.0 640.6,903.0 638.4,903.0 637.6,897.0 635.4,897.0 634.6,897.0 632.4,897.0 631.6,897.0 629.4,897.0 628.6,897.0 626.4,897.0 625.6,891.0 623.4,891.0 622.6,897.0 620.4,897.0 619.6,894.0 617.4,894.0 616.6,888.0 614.4,888.0 613.6,882.0 611.4,882.0 610.6,900.0 608.4,900.0 607.6,894.0 605.4,894.0 604.6,897.0 602.4,897.0 601.6,879.0 599.4,879.0 598.6,879.0 596.4,879.0 595.6,870.0 593.4,870.0 592.6,873.0 590.4,873.0 589.6,870.0 587.4,870.0 586.6,876.0 584.4,876.0 583.6,876.0 581.4,876.0 580.6,885.0 578.4,885.0 577.6,891.0 575.4,891.0 574.6,870.0 572.4,870.0 571.6,882.0 569.4,882.0 568.6,876.0 566.4,876.0 565.6,879.0 563.4,879.0 562.6,879.0 560.4,879.0 559.6,876.0 557.4,876.0 556.6,882.0 554.4,882.0 553.6,876.0 551.4,876.0 550.6,882.0 548.4,882.0 547.6,882.0 545.4,882.0 544.6,882.0 542.4,882.0 541.6,885.0 539.4,885.0 538.6,885.0 536.4,885.0 535.6,891.0 533.4,891.0 532.6,882.0 530.4,882.0 529.6,888.0 527.4,888.0 526.6,882.0 524.4,882.0 523.6,882.0 521.4,882.0 520.6,888.0 518.4,888.0 517.6,876.0 515.4,876.0 514.6,882.0 512.4,882.0 511.6,891.0 509.4,891.0 508.6,885.0 506.4,885.0 505.6,876.0 503.4,876.0 502.6,885.0 500.4,885.0 499.6,876.0 497.4,876.0 496.6,876.0 494.4,876.0 493.6,876.0 491.4,876.0 490.6,870.0 488.4,870.0 487.6,882.0 485.4,882.0 484.6,882.0 482.4,882.0 481.6,876.0 479.4,876.0 478.6,882.0 476.4,882.0 475.6,882.0 473.4,882.0 472.6,879.0 470.4,879.0 469.6,885.0 467.4,885.0 466.6,873.0 464.4,873.0 463.6,879.0 461.4,879.0 460.6,879.0 458.4,879.0 457.6,879.0 455.4,879.0 454.6,888.0 452.4,888.0 451.6,885.0 449.4,885.0 448.6,888.0 446.4,888.0 445.6,888.0 443.4,888.0 442.6,876.0 440.4,876.0 439.6,876.0 437.4,876.0 436.6,894.0 434.4,894.0 433.6,894.0 431.4,894.0 430.6,885.0 428.4,885.0 427.6,885.0 425.4,885.0 424.6,879.0 422.4,879.0 421.6,882.0 419.4,882.0 418.6,882.0 416.4,882.0 415.6,879.0 413.4,879.0 412.6,888.0 410.4,888.0 409.6,888.0 407.4,888.0 406.6,879.0 404.4,879.0 403.6,876.0 401.4,876.0 400.6,876.0 398.4,876.0 397.6,879.0 395.4,879.0 394.6,882.0 392.4,882.0 391.6,894.0 389.4,894.0 388.6,885.0 386.4,885.0 385.6,876.0 383.4,876.0 382.6,888.0 380.4,888.0 379.6,888.0 377.4,888.0 376.6,885.0 374.4,885.0 373.6,909.0 371.4,909.0 370.6,876.0 368.4,876.0 367.6,876.0 365.4,876.0 364.6,891.0 362.4,891.0 361.6,882.0 359.4,882.0 358.6,888.0 356.4,888.0 355.6,885.0 353.4,885.0 352.6,891.0 350.4,891.0 349.6,885.0 347.4,885.0 346.6,894.0 344.4,894.0 343.6,894.0 341.4,894.0 340.6,885.0 338.4,885.0 337.6,894.0 335.4,894.0 334.6,894.0 332.4,894.0 331.6,891.0 329.4,891.0 328.6,897.0 326.4,897.0 325.6,891.0 323.4,891.0 322.6,891.0 320.4,891.0 319.6,894.0 317.4,894.0 316.6,885.0 314.4,885.0 313.6,888.0 311.4,888.0 310.6,894.0 308.4,894.0 307.6,885.0 305.4,885.0 304.6,888.0 302.4,888.0 301.6,897.0 299.4,897.0 298.6,894.0 296.4,894.0 295.6,897.0 293.4,897.0 292.6,897.0 290.4,897.0 289.6,891.0 287.4,891.0 286.6,903.0 284.4,903.0 283.6,894.0 281.4,894.0 280.6,888.0 278.4,888.0 277.6,891.0 275.4,891.0 274.6,897.0 272.4,897.0 271.6,909.0 269.4,909.0 268.6,903.0 266.4,903.0 265.6,900.0 263.4,900.0 262.6,900.0 260.4,900.0 259.6,894.0 257.4,894.0 256.6,894.0 254.4,894.0 253.6,903.0 251.4,903.0 250.6,906.0 248.4,906.0 247.6,903.0 245.4,903.0 244.6,894.0 242.4,894.0 241.6,903.0 239.4,903.0 238.6,894.0 236.4,894.0 235.6,897.0 233.4,897.0 232.6,903.0 230.4,903.0 229.6,900.0 227.4,900.0 226.6,906.0 224.4,906.0 223.6,885.0 221.4,885.0 220.6,891.0 218.4,891.0 217.6,906.0 215.4,906.0 214.6,906.0 212.4,906.0 211.6,885.0 209.4,885.0 208.6,894.0 206.4,894.0 205.6,882.0 203.4,882.0 202.6,897.0 200.4,897.0 199.6,891.0 197.4,891.0 196.6,879.0 194.4,879.0 193.6,876.0 191.4,876.0 190.6,882.0 188.4,882.0 187.6,876.0 185.4,876.0 184.6,873.0 182.4,873.0 181.6,873.0 179.4,873.0 178.6,864.0 176.4,864.0 175.6,864.0 173.4,864.0 172.6,864.0 170.4,864.0 169.6,855.0 167.4,855.0 166.6,852.0 164.4,852.0 163.6,843.0 161.4,843.0 160.6,834.0 158.4,834.0 157.6,825.0 155.4,825.0 154.6,825.0 152.4,825.0 151.6,816.0 149.4,816.0 148.6,804.0 146.4,804.0 145.6,786.0 143.4,786.0 142.6,735.0 140.4,735.0 139.6,630.0 137.4,630.0Z" fill="#c26070" stroke="#c26070" stroke-width="3.0"/>
<path d="M145.4,375.0 147.6,375.0 148.4,423.0 150.6,423.0 151.4,447.0 153.6,447.0 154.4,471.0 156.6,471.0 157.4,471.0 159.6,471.0 160.4,474.0 162.6,474.0 163.4,483.0 165.6,483.0 166.4,474.0 168.6,474.0 169.4,486.0 171.6,486.0 172.4,495.0 174.6,495.0 175.4,483.0 177.6,483.0 178.4,483.0 180.6,483.0 181.4,489.0 183.6,489.0 184.4,489.0 186.6,489.0 187.4,486.0 189.6,486.0 190.4,492.0 192.6,492.0 193.4,486.0 195.6,486.0 196.4,498.0 198.6,498.0 199.4,495.0 201.6,495.0 202.4,495.0 204.6,495.0 205.4,495.0 207.6,495.0 208.4,495.0 210.6,495.0 211.4,501.0 213.6,501.0 214.4,495.0 216.6,495.0 217.4,495.0 219.6,495.0 220.4,504.0 222.6,504.0 223.4,504.0 225.6,504.0 226.4,504.0 228.6,504.0 229.4,507.0 231.6,507.0 232.4,498.0 234.6,498.0 235.4,498.0 237.6,498.0 238.4,513.0 240.6,513.0 241.4,510.0 243.6,510.0 244.4,504.0 246.6,504.0 247.4,510.0 249.6,510.0 250.4,516.0 252.6,516.0 253.4,513.0 255.6,513.0 256.4,510.0 258.6,510.0 259.4,507.0 261.6,507.0 262.4,501.0 264.6,501.0 265.4,504.0 267.6,504.0 268.4,504.0 270.6,504.0 271.4,510.0 273.6,510.0 274.4,507.0 276.6,507.0 277.4,504.0 279.6,504.0 280.4,507.0 282.6,507.0 283.4,510.0 285.6,510.0 286.4,507.0 288.6,507.0 289.4,507.0 291.6,507.0 292.4,516.0 294.6,516.0 295.4,501.0 297.6,501.0 298.4,513.0 300.6,513.0 301.4,501.0 303.6,501.0 304.4,516.0 306.6,516.0 307.4,498.0 309.6,498.0 310.4,510.0 312.6,510.0 313.4,498.0 315.6,498.0 316.4,510.0 318.6,510.0 319.4,498.0 321.6,498.0 322.4,492.0 324.6,492.0 325.4,492.0 327.6,492.0 328.4,507.0 330.6,507.0 331.4,504.0 333.6,504.0 334.4,504.0 336.6,504.0 337.4,510.0 339.6,510.0 340.4,501.0 342.6,501.0 343.4,513.0 345.6,513.0 346.4,507.0 348.6,507.0 349.4,504.0 351.6,504.0 352.4,507.0 354.6,507.0 355.4,507.0 357.6,507.0 358.4,507.0 360.6,507.0 361.4,510.0 363.6,510.0 364.4,507.0 366.6,507.0 367.4,498.0 369.6,498.0 370.4,507.0 372.6,507.0 373.4,507.0 375.6,507.0 376.4,507.0 378.6,507.0 379.4,507.0 381.6,507.0 382.4,513.0 384.6,513.0 385.4,513.0 387.6,513.0 388.4,510.0 390.6,510.0 391.4,504.0 393.6,504.0 394.4,513.0 396.6,513.0 397.4,516.0 399.6,516.0 400.4,513.0 402.6,513.0 403.4,504.0 405.6,504.0 406.4,513.0 408.6,513.0 409.4,510.0 411.6,510.0 412.4,507.0 414.6,507.0 415.4,501.0 417.6,501.0 418.4,522.0 420.6,522.0 421.4,504.0 423.6,504.0 424.4,504.0 426.6,504.0 427.4,513.0 429.6,513.0 430.4,513.0 432.6,513.0 433.4,513.0 435.6,513.0 436.4,513.0 438.6,513.0 439.4,513.0 441.6,513.0 442.4,513.0 444.6,513.0 445.4,519.0 447.6,519.0 448.4,519.0 450.6,519.0 451.4,513.0 453.6,513.0 454.4,510.0 456.6,510.0 457.4,510.0 459.6,510.0 460.4,504.0 462.6,504.0 463.4,516.0 465.6,516.0 466.4,516.0 468.6,516.0 469.4,507.0 471.6,507.0 472.4,513.0 474.6,513.0 475.4,510.0 477.6,510.0 478.4,510.0 480.6,510.0 481.4,507.0 483.6,507.0 484.4,504.0 486.6,504.0 487.4,513.0 489.6,513.0 490.4,513.0 492.6,513.0 493.4,507.0 495.6,507.0 496.4,513.0 498.6,513.0 499.4,507.0 501.6,507.0 502.4,507.0 504.6,507.0 505.4,513.0 507.6,513.0 508.4,510.0 510.6,510.0 511.4,501.0 513.6,501.0 514.4,501.0 516.6,501.0 517.4,501.0 519.6,501.0 520.4,504.0 522.6,504.0 523.4,498.0 525.6,498.0 526.4,498.0 528.6,498.0 529.4,498.0 531.6,498.0 532.4,498.0 534.6,498.0 535.4,495.0 537.6,495.0 538.4,504.0 540.6,504.0 541.4,501.0 543.6,501.0 544.4,498.0 546.6,498.0 547.4,489.0 549.6,489.0 550.4,498.0 552.6,498.0 553.4,492.0 555.6,492.0 556.4,483.0 558.6,483.0 559.4,489.0 561.6,489.0 562.4,489.0 564.6,489.0 565.4,477.0 567.6,477.0 568.4,492.0 570.6,492.0 571.4,480.0 573.6,480.0 574.4,477.0 576.6,477.0 577.4,486.0 579.6,486.0 580.4,483.0 582.6,483.0 583.4,477.0 585.6,477.0 586.4,483.0 588.6,483.0 589.4,480.0 591.6,480.0 592.4,474.0 594.6,474.0 595.4,474.0 597.6,474.0 598.4,474.0 600.6,474.0 601.4,471.0 603.6,471.0 604.4,480.0 606.6,480.0 607.4,480.0 609.6,480.0 610.4,468.0 612.6,468.0 613.4,474.0 615.6,474.0 616.4,474.0 618.6,474.0 619.4,474.0 621.6,474.0 622.4,483.0 624.6,483.0 625.4,474.0 627.6,474.0 628.4,468.0 630.6,468.0 631.4,480.0 633.6,480.0 634.4,474.0 636.6,474.0 637.4,471.0 639.6,471.0 640.4,465.0 642.6,465.0 643.4,480.0 645.6,480.0 646.4,483.0 648.6,483.0 649.4,483.0 651.6,483.0 652.4,489.0 654.6,489.0 655.4,486.0 657.6,486.0 658.4,486.0 660.6,486.0 661.4,486.0 663.6,486.0 664.4,486.0 666.6,486.0 667.4,492.0 669.6,492.0 670.4,486.0 672.6,486.0 673.4,477.0 675.6,477.0 676.4,492.0 678.6,492.0 679.4,489.0 681.6,489.0 682.4,486.0 684.6,486.0 685.4,486.0 687.6,486.0 688.4,480.0 690.6,480.0 691.4,492.0 693.6,492.0 694.4,489.0 696.6,489.0 697.4,483.0 699.6,483.0 700.4,486.0 702.6,486.0 703.4,480.0 705.6,480.0 706.4,480.0 708.6,480.0 709.4,486.0 711.6,486.0 712.4,474.0 714.6,474.0 715.4,480.0 717.6,480.0 718.4,477.0 720.6,477.0 721.4,483.0 723.6,483.0 724.4,483.0 726.6,483.0 727.4,474.0 729.6,474.0 730.4,474.0 732.6,474.0 733.4,477.0 735.6,477.0 736.4,480.0 738.6,480.0 739.4,480.0 741.6,480.0 742.4,471.0 744.6,471.0 745.4,477.0 747.6,477.0 748.4,480.0 750.6,480.0 751.4,483.0 753.6,483.0 754.4,471.0 756.6,471.0 757.4,474.0 759.6,474.0 760.4,483.0 762.6,483.0 763.4,486.0 765.6,486.0 766.4,477.0 768.6,477.0 769.4,486.0 771.6,486.0 772.4,480.0 774.6,480.0 775.4,483.0 777.6,483.0 778.4,480.0 780.6,480.0 781.4,489.0 783.6,489.0 784.4,486.0 786.6,486.0 787.4,489.0 789.6,489.0 790.4,483.0 792.6,483.0 793.4,486.0 795.6,486.0 796.4,486.0 798.6,486.0 799.4,489.0 801.6,489.0 802.4,495.0 804.6,495.0 805.4,486.0 807.6,486.0 808.4,492.0 810.6,492.0 811.4,489.0 813.6,489.0 814.4,495.0 816.6,495.0 817.4,495.0 819.6,495.0 820.4,498.0 822.6,498.0 823.4,495.0 825.6,495.0 826.4,486.0 828.6,486.0 829.4,480.0 831.6,480.0 832.4,501.0 834.6,501.0 835.4,495.0 837.6,495.0 838.4,489.0 840.6,489.0 841.4,492.0 843.6,492.0 844.4,495.0 846.6,495.0 847.4,489.0 849.6,489.0 850.4,507.0 852.6,507.0 853.4,504.0 855.6,504.0 856.4,513.0 858.6,513.0 859.4,504.0 861.6,504.0 862.4,510.0 864.6,510.0 865.4,510.0 867.6,510.0 868.4,507.0 870.6,507.0 871.4,510.0 873.6,510.0 874.4,519.0 876.6,519.0 877.4,513.0 879.6,513.0 880.4,501.0 882.6,501.0 883.4,519.0 885.6,519.0 886.4,513.0 888.6,513.0 889.4,519.0 891.6,519.0 892.4,516.0 894.6,516.0 895.4,510.0 897.6,510.0 898.4,510.0 900.6,510.0 901.4,516.0 903.6,516.0 904.4,510.0 906.6,510.0 907.4,513.0 909.6,513.0 910.4,516.0 912.6,516.0 913.4,513.0 915.6,513.0 916.4,504.0 918.6,504.0 919.4,516.0 921.6,516.0 922.4,513.0 924.6,513.0 925.4,522.0 927.6,522.0 928.4,519.0 930.6,519.0 931.4,522.0 933.6,522.0 934.4,516.0 936.6,516.0 937.4,513.0 939.6,513.0 940.4,510.0 942.6,510.0 943.4,516.0 945.6,516.0 946.4,516.0 948.6,516.0 949.4,528.0 951.6,528.0 952.4,507.0 954.6,507.0 955.4,519.0 957.6,519.0 958.4,522.0 960.6,522.0 961.4,510.0 963.6,510.0 964.4,516.0 966.6,516.0 967.4,519.0 969.6,519.0 970.4,519.0 972.6,519.0 973.4,513.0 975.6,513.0 976.4,519.0 978.6,519.0 979.4,513.0 981.6,513.0 982.4,516.0 984.6,516.0 985.4,516.0 987.6,516.0 988.4,516.0 990.6,516.0 991.4,510.0 993.6,510.0 994.4,525.0 996.6,525.0 997.4,519.0 999.6,519.0 1000.4,516.0 1002.6,516.0 1003.4,513.0 1005.6,513.0 1006.4,504.0 1008.6,504.0 1009.4,507.0 1011.6,507.0 1012.4,507.0 1014.6,507.0 1015.4,522.0 1017.6,522.0 1018.4,507.0 1020.6,507.0 1021.4,513.0 1023.6,513.0 1024.4,516.0 1026.6,516.0 1027.4,522.0 1029.6,522.0 1030.4,519.0 1032.6,519.0 1033.4,507.0 1035.6,507.0 1036.4,513.0 1038.6,513.0 1039.4,516.0 1041.6,516.0 1042.4,519.0 1044.6,519.0 1045.4,513.0 1047.6,513.0 1048.4,516.0 1050.6,516.0 1051.4,510.0 1053.6,510.0 1054.4,513.0 1056.6,513.0 1057.4,513.0 1059.6,513.0 1060.4,513.0 1062.6,513.0 1063.4,516.0 1065.6,516.0 1066.4,513.0 1068.6,513.0 1069.4,522.0 1071.6,522.0 1072.4,516.0 1074.6,516.0 1075.4,513.0 1077.6,513.0 1078.4,516.0 1080.6,516.0 1081.4,519.0 1083.6,519.0 1084.4,522.0 1086.6,522.0 1087.4,531.0 1089.6,531.0 1090.4,519.0 1092.6,519.0 1093.4,525.0 1095.6,525.0 1096.4,525.0 1098.6,525.0 1099.4,534.0 1101.6,534.0 1102.4,522.0 1104.6,522.0 1105.4,528.0 1107.6,528.0 1108.4,525.0 1110.6,525.0 1111.4,528.0 1113.6,528.0 1114.4,537.0 1116.6,537.0 1117.4,540.0 1119.6,540.0 1120.4,537.0 1122.6,537.0 1123.4,534.0 1125.6,534.0 1126.4,531.0 1128.6,531.0 1129.4,534.0 1131.6,534.0 1132.4,534.0 1134.6,534.0 1135.4,534.0 1137.6,534.0 1138.4,537.0 1140.6,537.0 1141.4,534.0 1143.6,534.0 1144.4,528.0 1146.6,528.0 1147.4,525.0 1149.6,525.0 1150.4,537.0 1152.6,537.0 1153.4,540.0 1155.6,540.0 1156.4,540.0 1158.6,540.0 1159.4,540.0 1161.6,540.0 1162.4,540.0 1164.6,540.0 1165.4,543.0 1167.6,543.0 1168.4,540.0 1170.6,540.0 1171.4,537.0 1173.6,537.0 1174.4,537.0 1176.6,537.0 1177.4,537.0 1179.6,537.0 1180.4,546.0 1182.6,546.0 1183.4,540.0 1185.6,540.0 1186.4,540.0 1188.6,540.0 1189.4,540.0 1191.6,540.0 1192.4,534.0 1194.6,534.0 1195.4,540.0 1197.6,540.0 1198.4,540.0 1200.6,540.0 1201.4,537.0 1203.6,537.0 1204.4,537.0 1206.6,537.0 1207.4,537.0 1209.6,537.0 1210.4,528.0 1212.6,528.0 1213.4,540.0 1215.6,540.0 1216.4,534.0 1218.6,534.0 1219.4,528.0 1221.6,528.0 1222.4,540.0 1224.6,540.0 1225.4,543.0 1227.6,543.0 1228.4,543.0 1230.6,543.0 1231.4,540.0 1233.6,540.0 1234.4,537.0 1236.6,537.0 1237.4,534.0 1239.6,534.0 1240.4,531.0 1242.6,531.0 1243.4,531.0 1245.6,531.0 1246.4,537.0 1248.6,537.0 1249.4,534.0 1251.6,534.0 1252.4,537.0 1254.6,537.0 1255.4,540.0 1257.6,540.0 1258.4,540.0 1260.6,540.0 1261.4,534.0 1263.6,534.0 1264.4,537.0 1266.6,537.0 1267.4,534.0 1269.6,534.0 1270.4,534.0 1272.6,534.0 1273.4,534.0 1275.6,534.0 1276.4,534.0 1278.6,534.0 1279.4,522.0 1281.6,522.0 1282.4,534.0 1284.6,534.0 1285.4,534.0 1287.6,534.0 1288.4,534.0 1290.6,534.0 1291.4,534.0 1293.6,534.0 1294.4,537.0 1296.6,537.0 1297.4,531.0 1299.6,531.0 1300.4,528.0 1302.6,528.0 1303.4,528.0 1305.6,528.0 1305.6,558.0 1303.4,558.0 1302.6,558.0 1300.4,558.0 1299.6,558.0 1297.4,558.0 1296.6,561.0 1294.4,561.0 1293.6,561.0 1291.4,561.0 1290.6,558.0 1288.4,558.0 1287.6,555.0 1285.4,555.0 1284.6,552.0 1282.4,552.0 1281.6,558.0 1279.4,558.0 1278.6,564.0 1276.4,564.0 1275.6,561.0 1273.4,561.0 1272.6,555.0 1270.4,555.0 1269.6,564.0 1267.4,564.0 1266.6,555.0 1264.4,555.0 1263.6,555.0 1261.4,555.0 1260.6,555.0 1258.4,555.0 1257.6,561.0 1255.4,561.0 1254.6,564.0 1252.4,564.0 1251.6,564.0 1249.4,564.0 1248.6,552.0 1246.4,552.0 1245.6,567.0 1243.4,567.0 1242.6,561.0 1240.4,561.0 1239.6,561.0 1237.4,561.0 1236.6,555.0 1234.4,555.0 1233.6,555.0 1231.4,555.0 1230.6,555.0 1228.4,555.0 1227.6,561.0 1225.4,561.0 1224.6,555.0 1222.4,555.0 1221.6,555.0 1219.4,555.0 1218.6,567.0 1216.4,567.0 1215.6,567.0 1213.4,567.0 1212.6,564.0 1210.4,564.0 1209.6,561.0 1207.4,561.0 1206.6,558.0 1204.4,558.0 1203.6,564.0 1201.4,564.0 1200.6,564.0 1198.4,564.0 1197.6,558.0 1195.4,558.0 1194.6,564.0 1192.4,564.0 1191.6,558.0 1189.4,558.0 1188.6,555.0 1186.4,555.0 1185.6,573.0 1183.4,573.0 1182.6,561.0 1180.4,561.0 1179.6,564.0 1177.4,564.0 1176.6,564.0 1174.4,564.0 1173.6,561.0 1171.4,561.0 1170.6,561.0 1168.4,561.0 1167.6,564.0 1165.4,564.0 1164.6,561.0 1162.4,561.0 1161.6,558.0 1159.4,558.0 1158.6,564.0 1156.4,564.0 1155.6,561.0 1153.4,561.0 1152.6,558.0 1150.4,558.0 1149.6,558.0 1147.4,558.0 1146.6,558.0 1144.4,558.0 1143.6,564.0 1141.4,564.0 1140.6,558.0 1138.4,558.0 1137.6,558.0 1135.4,558.0 1134.6,555.0 1132.4,555.0 1131.6,558.0 1129.4,558.0 1128.6,558.0 1126.4,558.0 1125.6,561.0 1123.4,561.0 1122.6,564.0 1120.4,564.0 1119.6,564.0 1117.4,564.0 1116.6,564.0 1114.4,564.0 1113.6,552.0 1111.4,552.0 1110.6,546.0 1108.4,546.0 1107.6,561.0 1105.4,561.0 1104.6,561.0 1102.4,561.0 1101.6,558.0 1099.4,558.0 1098.6,552.0 1096.4,552.0 1095.6,552.0 1093.4,552.0 1092.6,552.0 1090.4,552.0 1089.6,549.0 1087.4,549.0 1086.6,546.0 1084.4,546.0 1083.6,549.0 1081.4,549.0 1080.6,543.0 1078.4,543.0 1077.6,555.0 1075.4,555.0 1074.6,552.0 1072.4,552.0 1071.6,549.0 1069.4,549.0 1068.6,549.0 1066.4,549.0 1065.6,549.0 1063.4,549.0 1062.6,537.0 1060.4,537.0 1059.6,543.0 1057.4,543.0 1056.6,540.0 1054.4,540.0 1053.6,546.0 1051.4,546.0 1050.6,540.0 1048.4,540.0 1047.6,540.0 1045.4,540.0 1044.6,543.0 1042.4,543.0 1041.6,537.0 1039.4,537.0 1038.6,543.0 1036.4,543.0 1035.6,540.0 1033.4,540.0 1032.6,546.0 1030.4,546.0 1029.6,540.0 1027.4,540.0 1026.6,528.0 1024.4,528.0 1023.6,540.0 1021.4,540.0 1020.6,534.0 1018.4,534.0 1017.6,537.0 1015.4,537.0 1014.6,534.0 1012.4,534.0 1011.6,531.0 1009.4,531.0 1008.6,537.0 1006.4,537.0 1005.6,540.0 1003.4,540.0 1002.6,540.0 1000.4,540.0 999.6,540.0 997.4,540.0 996.6,543.0 994.4,543.0 993.6,537.0 991.4,537.0 990.6,540.0 988.4,540.0 987.6,543.0 985.4,543.0 984.6,546.0 982.4,546.0 981.6,543.0 979.4,543.0 978.6,546.0 976.4,546.0 975.6,549.0 973.4,549.0 972.6,549.0 970.4,549.0 969.6,540.0 967.4,540.0 966.6,552.0 964.4,552.0 963.6,540.0 961.4,540.0 960.6,543.0 958.4,543.0 957.6,546.0 955.4,546.0 954.6,546.0 952.4,546.0 951.6,546.0 949.4,546.0 948.6,543.0 946.4,543.0 945.6,543.0 943.4,543.0 942.6,540.0 940.4,540.0 939.6,543.0 937.4,543.0 936.6,543.0 934.4,543.0 933.6,537.0 931.4,537.0 930.6,543.0 928.4,543.0 927.6,549.0 925.4,549.0 924.6,543.0 922.4,543.0 921.6,540.0 919.4,540.0 918.6,540.0 916.4,540.0 915.6,543.0 913.4,543.0 912.6,537.0 910.4,537.0 909.6,543.0 907.4,543.0 906.6,543.0 904.4,543.0 903.6,540.0 901.4,540.0 900.6,549.0 898.4,549.0 897.6,543.0 895.4,543.0 894.6,543.0 892.4,543.0 891.6,537.0 889.4,537.0 888.6,534.0 886.4,534.0 885.6,540.0 883.4,540.0 882.6,543.0 880.4,543.0 879.6,543.0 877.4,543.0 876.6,534.0 874.4,534.0 873.6,531.0 871.4,531.0 870.6,537.0 868.4,537.0 867.6,525.0 865.4,525.0 864.6,537.0 862.4,537.0 861.6,537.0 859.4,537.0 858.6,534.0 856.4,534.0 855.6,525.0 853.4,525.0 852.6,525.0 850.4,525.0 849.6,519.0 847.4,519.0 846.6,528.0 844.4,528.0 843.6,519.0 841.4,519.0 840.6,522.0 838.4,522.0 837.6,531.0 835.4,531.0 834.6,531.0 832.4,531.0 831.6,525.0 829.4,525.0 828.6,519.0 826.4,519.0 825.6,519.0 823.4,519.0 822.6,513.0 820.4,513.0 819.6,522.0 817.4,522.0 816.6,519.0 814.4,519.0 813.6,513.0 811.4,513.0 810.6,519.0 808.4,519.0 807.6,516.0 805.4,516.0 804.6,516.0 802.4,516.0 801.6,516.0 799.4,516.0 798.6,513.0 796.4,513.0 795.6,519.0 793.4,519.0 792.6,510.0 790.4,510.0 789.6,510.0 787.4,510.0 786.6,507.0 784.4,507.0 783.6,510.0 781.4,510.0 780.6,510.0 778.4,510.0 777.6,507.0 775.4,507.0 774.6,498.0 772.4,498.0 771.6,513.0 769.4,513.0 768.6,507.0 766.4,507.0 765.6,504.0 763.4,504.0 762.6,507.0 760.4,507.0 759.6,495.0 757.4,495.0 756.6,510.0 754.4,510.0 753.6,504.0 751.4,504.0 750.6,510.0 748.4,510.0 747.6,495.0 745.4,495.0 744.6,498.0 742.4,498.0 741.6,501.0 739.4,501.0 738.6,504.0 736.4,504.0 735.6,513.0 733.4,513.0 732.6,501.0 730.4,501.0 729.6,498.0 727.4,498.0 726.6,507.0 724.4,507.0 723.6,510.0 721.4,510.0 720.6,504.0 718.4,504.0 717.6,513.0 715.4,513.0 714.6,507.0 712.4,507.0 711.6,501.0 709.4,501.0 708.6,510.0 706.4,510.0 705.6,507.0 703.4,507.0 702.6,516.0 700.4,516.0 699.6,501.0 697.4,501.0 696.6,507.0 694.4,507.0 693.6,528.0 691.4,528.0 690.6,510.0 688.4,510.0 687.6,516.0 685.4,516.0 684.6,519.0 682.4,519.0 681.6,519.0 679.4,519.0 678.6,510.0 676.4,510.0 675.6,513.0 673.4,513.0 672.6,516.0 670.4,516.0 669.6,519.0 667.4,519.0 666.6,513.0 664.4,513.0 663.6,507.0 661.4,507.0 660.6,516.0 658.4,516.0 657.6,507.0 655.4,507.0 654.6,519.0 652.4,519.0 651.6,507.0 649.4,507.0 648.6,504.0 646.4,504.0 645.6,507.0 643.4,507.0 642.6,498.0 640.4,498.0 639.6,498.0 637.4,498.0 636.6,507.0 634.4,507.0 633.6,504.0 631.4,504.0 630.6,495.0 628.4,495.0 627.6,504.0 625.4,504.0 624.6,498.0 622.4,498.0 621.6,495.0 619.4,495.0 618.6,495.0 616.4,495.0 615.6,495.0 613.4,495.0 612.6,498.0 610.4,498.0 609.6,504.0 607.4,504.0 606.6,501.0 604.4,501.0 603.6,501.0 601.4,501.0 600.6,501.0 598.4,501.0 597.6,495.0 595.4,495.0 594.6,492.0 592.4,492.0 591.6,501.0 589.4,501.0 588.6,510.0 586.4,510.0 585.6,501.0 583.4,501.0 582.6,513.0 580.4,513.0 579.6,513.0 577.4,513.0 576.6,510.0 574.4,510.0 573.6,504.0 571.4,504.0 570.6,507.0 568.4,507.0 567.6,507.0 565.4,507.0 564.6,516.0 562.4,516.0 561.6,513.0 559.4,513.0 558.6,504.0 556.4,504.0 555.6,510.0 553.4,510.0 552.6,522.0 550.4,522.0 549.6,522.0 547.4,522.0 546.6,516.0 544.4,516.0 543.6,519.0 541.4,519.0 540.6,519.0 538.4,519.0 537.6,519.0 535.4,519.0 534.6,522.0 532.4,522.0 531.6,531.0 529.4,531.0 528.6,525.0 526.4,525.0 525.6,528.0 523.4,528.0 522.6,537.0 520.4,537.0 519.6,525.0 517.4,525.0 516.6,534.0 514.4,534.0 513.6,540.0 511.4,540.0 510.6,525.0 508.4,525.0 507.6,537.0 505.4,537.0 504.6,540.0 502.4,540.0 501.6,525.0 499.4,525.0 498.6,537.0 496.4,537.0 495.6,528.0 493.4,528.0 492.6,534.0 490.4,534.0 489.6,528.0 487.4,528.0 486.6,531.0 484.4,531.0 483.6,540.0 481.4,540.0 480.6,540.0 478.4,540.0 477.6,537.0 475.4,537.0 474.6,534.0 472.4,534.0 471.6,540.0 469.4,540.0 468.6,549.0 466.4,549.0 465.6,546.0 463.4,546.0 462.6,543.0 460.4,543.0 459.6,534.0 457.4,534.0 456.6,540.0 454.4,540.0 453.6,546.0 451.4,546.0 450.6,534.0 448.4,534.0 447.6,540.0 445.4,540.0 444.6,543.0 442.4,543.0 441.6,534.0 439.4,534.0 438.6,531.0 436.4,531.0 435.6,531.0 433.4,531.0 432.6,540.0 430.4,540.0 429.6,534.0 427.4,534.0 426.6,540.0 424.4,540.0 423.6,543.0 421.4,543.0 420.6,546.0 418.4,546.0 417.6,546.0 415.4,546.0 414.6,540.0 412.4,540.0 411.6,537.0 409.4,537.0 408.6,534.0 406.4,534.0 405.6,540.0 403.4,540.0 402.6,534.0 400.4,534.0 399.6,537.0 397.4,537.0 396.6,534.0 394.4,534.0 393.6,534.0 391.4,534.0 390.6,534.0 388.4,534.0 387.6,534.0 385.4,534.0 384.6,537.0 382.4,537.0 381.6,528.0 379.4,528.0 378.6,528.0 376.4,528.0 375.6,531.0 373.4,531.0 372.6,528.0 370.4,528.0 369.6,522.0 367.4,522.0 366.6,540.0 364.4,540.0 363.6,534.0 361.4,534.0 360.6,528.0 358.4,528.0 357.6,525.0 355.4,525.0 354.6,534.0 352.4,534.0 351.6,531.0 349.4,531.0 348.6,537.0 346.4,537.0 345.6,534.0 343.4,534.0 342.6,528.0 340.4,528.0 339.6,531.0 337.4,531.0 336.6,522.0 334.4,522.0 333.6,528.0 331.4,528.0 330.6,528.0 328.4,528.0 327.6,534.0 325.4,534.0 324.6,534.0 322.4,534.0 321.6,528.0 319.4,528.0 318.6,534.0 316.4,534.0 315.6,522.0 313.4,522.0 312.6,531.0 310.4,531.0 309.6,531.0 307.4,531.0 306.6,528.0 304.4,528.0 303.6,531.0 301.4,531.0 300.6,537.0 298.4,537.0 297.6,534.0 295.4,534.0 294.6,531.0 292.4,531.0 291.6,531.0 289.4,531.0 288.6,540.0 286.4,540.0 285.6,534.0 283.4,534.0 282.6,543.0 280.4,543.0 279.6,537.0 277.4,537.0 276.6,534.0 274.4,534.0 273.6,540.0 271.4,540.0 270.6,534.0 268.4,534.0 267.6,531.0 265.4,531.0 264.6,531.0 262.4,531.0 261.6,537.0 259.4,537.0 258.6,537.0 256.4,537.0 255.6,537.0 253.4,537.0 252.6,534.0 250.4,534.0 249.6,528.0 247.4,528.0 246.6,534.0 244.4,534.0 243.6,531.0 241.4,531.0 240.6,531.0 238.4,531.0 237.6,534.0 235.4,534.0 234.6,537.0 232.4,537.0 231.6,528.0 229.4,528.0 228.6,522.0 226.4,522.0 225.6,528.0 223.4,528.0 222.6,525.0 220.4,525.0 219.6,525.0 217.4,525.0 216.6,522.0 214.4,522.0 213.6,528.0 211.4,528.0 210.6,534.0 208.4,534.0 207.6,534.0 205.4,534.0 204.6,522.0 202.4,522.0 201.6,528.0 199.4,528.0 198.6,519.0 196.4,519.0 195.6,516.0 193.4,516.0 192.6,516.0 190.4,516.0 189.6,516.0 187.4,516.0 186.6,513.0 184.4,513.0 183.6,513.0 181.4,513.0 180.6,507.0 178.4,507.0 177.6,504.0 175.4,504.0 174.6,516.0 172.4,516.0 171.6,507.0 169.4,507.0 168.6,501.0 166.4,501.0 165.6,507.0 163.4,507.0 162.6,495.0 160.4,495.0 159.6,495.0 157.4,495.0 156.6,486.0 154.4,486.0 153.6,489.0 151.4,489.0 150.6,468.0 148.4,468.0 147.6,429.0 145.4,429.0Z" fill="#c8d038" stroke="#c8d038" stroke-width="3.0"/>
<path d="M125,345 129.5,345 135,372 139,345 140,342 146.5,342 148,380 149,425 125,425Z" fill="#c8d038" />
<path d="M145.4,375.0 147.6,375.0 148.4,423.0 150.6,423.0 151.4,447.0 153.6,447.0 154.4,471.0 156.6,471.0 157.4,471.0 159.6,471.0 160.4,474.0 162.6,474.0 163.4,483.0 165.6,483.0 166.4,474.0 168.6,474.0 169.4,486.0 171.6,486.0 172.4,495.0 174.6,495.0 175.4,483.0 177.6,483.0 178.4,483.0 180.6,483.0 181.4,489.0 183.6,489.0 184.4,489.0 186.6,489.0 187.4,486.0 189.6,486.0 190.4,492.0 192.6,492.0 193.4,486.0 195.6,486.0 196.4,498.0 198.6,498.0 199.4,495.0 201.6,495.0 202.4,495.0 204.6,495.0 205.4,495.0 207.6,495.0 208.4,495.0 210.6,495.0 211.4,501.0 213.6,501.0 214.4,495.0 216.6,495.0 217.4,495.0 219.6,495.0 220.4,504.0 222.6,504.0 223.4,504.0 225.6,504.0 226.4,504.0 228.6,504.0 229.4,507.0 231.6,507.0 232.4,498.0 234.6,498.0 235.4,498.0 237.6,498.0 238.4,513.0 240.6,513.0 241.4,510.0 243.6,510.0 244.4,504.0 246.6,504.0 247.4,510.0 249.6,510.0 250.4,516.0 252.6,516.0 253.4,513.0 255.6,513.0 256.4,510.0 258.6,510.0 259.4,507.0 261.6,507.0 262.4,501.0 264.6,501.0 265.4,504.0 267.6,504.0 268.4,504.0 270.6,504.0 271.4,510.0 273.6,510.0 274.4,507.0 276.6,507.0 277.4,504.0 279.6,504.0 280.4,507.0 282.6,507.0 283.4,510.0 285.6,510.0 286.4,507.0 288.6,507.0 289.4,507.0 291.6,507.0 292.4,516.0 294.6,516.0 295.4,501.0 297.6,501.0 298.4,513.0 300.6,513.0 301.4,501.0 303.6,501.0 304.4,516.0 306.6,516.0 307.4,498.0 309.6,498.0 310.4,510.0 312.6,510.0 313.4,498.0 315.6,498.0 316.4,510.0 318.6,510.0 319.4,498.0 321.6,498.0 322.4,492.0 324.6,492.0 325.4,492.0 327.6,492.0 328.4,507.0 330.6,507.0 331.4,504.0 333.6,504.0 334.4,504.0 336.6,504.0 337.4,510.0 339.6,510.0 340.4,501.0 342.6,501.0 343.4,513.0 345.6,513.0 346.4,507.0 348.6,507.0 349.4,504.0 351.6,504.0 352.4,507.0 354.6,507.0 355.4,507.0 357.6,507.0 358.4,507.0 360.6,507.0 361.4,510.0 363.6,510.0 364.4,507.0 366.6,507.0 367.4,498.0 369.6,498.0 370.4,507.0 372.6,507.0 373.4,507.0 375.6,507.0 376.4,507.0 378.6,507.0 379.4,507.0 381.6,507.0 382.4,513.0 384.6,513.0 385.4,513.0 387.6,513.0 388.4,510.0 390.6,510.0 391.4,504.0 393.6,504.0 394.4,513.0 396.6,513.0 397.4,516.0 399.6,516.0 400.4,513.0 402.6,513.0 403.4,504.0 405.6,504.0 406.4,513.0 408.6,513.0 409.4,510.0 411.6,510.0 412.4,507.0 414.6,507.0 415.4,501.0 417.6,501.0 418.4,522.0 420.6,522.0 421.4,504.0 423.6,504.0 424.4,504.0 426.6,504.0 427.4,513.0 429.6,513.0 430.4,513.0 432.6,513.0 433.4,513.0 435.6,513.0 436.4,513.0 438.6,513.0 439.4,513.0 441.6,513.0 442.4,513.0 444.6,513.0 445.4,519.0 447.6,519.0 448.4,519.0 450.6,519.0 451.4,513.0 453.6,513.0 454.4,510.0 456.6,510.0 457.4,510.0 459.6,510.0 460.4,504.0 462.6,504.0 463.4,516.0 465.6,516.0 466.4,516.0 468.6,516.0 469.4,507.0 471.6,507.0 472.4,513.0 474.6,513.0 475.4,510.0 477.6,510.0 478.4,510.0 480.6,510.0 481.4,507.0 483.6,507.0 484.4,504.0 486.6,504.0 487.4,513.0 489.6,513.0 490.4,513.0 492.6,513.0 493.4,507.0 495.6,507.0 496.4,513.0 498.6,513.0 499.4,507.0 501.6,507.0 502.4,507.0 504.6,507.0 505.4,513.0 507.6,513.0 508.4,510.0 510.6,510.0 511.4,501.0 513.6,501.0 514.4,501.0 516.6,501.0 517.4,501.0 519.6,501.0 520.4,504.0 522.6,504.0 523.4,498.0 525.6,498.0 526.4,498.0 528.6,498.0 529.4,498.0 531.6,498.0 532.4,498.0 534.6,498.0 535.4,495.0 537.6,495.0 538.4,504.0 540.6,504.0 541.4,501.0 543.6,501.0 544.4,498.0 546.6,498.0 547.4,489.0 549.6,489.0 550.4,498.0 552.6,498.0 553.4,492.0 555.6,492.0 556.4,483.0 558.6,483.0 559.4,489.0 561.6,489.0 562.4,489.0 564.6,489.0 565.4,477.0 567.6,477.0 568.4,492.0 570.6,492.0 571.4,480.0 573.6,480.0 574.4,477.0 576.6,477.0 577.4,486.0 579.6,486.0 580.4,483.0 582.6,483.0 583.4,477.0 585.6,477.0 586.4,483.0 588.6,483.0 589.4,480.0 591.6,480.0 592.4,474.0 594.6,474.0 595.4,474.0 597.6,474.0 598.4,474.0 600.6,474.0 601.4,471.0 603.6,471.0 604.4,480.0 606.6,480.0 607.4,480.0 609.6,480.0 610.4,468.0 612.6,468.0 613.4,474.0 615.6,474.0 616.4,474.0 618.6,474.0 619.4,474.0 621.6,474.0 622.4,483.0 624.6,483.0 625.4,474.0 627.6,474.0 628.4,468.0 630.6,468.0 631.4,480.0 633.6,480.0 634.4,474.0 636.6,474.0 637.4,471.0 639.6,471.0 640.4,465.0 642.6,465.0 643.4,480.0 645.6,480.0 646.4,483.0 648.6,483.0 649.4,483.0 651.6,483.0 652.4,489.0 654.6,489.0 655.4,486.0 657.6,486.0 658.4,486.0 660.6,486.0 661.4,486.0 663.6,486.0 664.4,486.0 666.6,486.0 667.4,492.0 669.6,492.0 670.4,486.0 672.6,486.0 673.4,477.0 675.6,477.0 676.4,492.0 678.6,492.0 679.4,489.0 681.6,489.0 682.4,486.0 684.6,486.0 685.4,486.0 687.6,486.0 688.4,480.0 690.6,480.0 691.4,492.0 693.6,492.0 694.4,489.0 696.6,489.0 697.4,483.0 699.6,483.0 700.4,486.0 702.6,486.0 703.4,480.0 705.6,480.0 706.4,480.0 708.6,480.0 709.4,486.0 711.6,486.0 712.4,474.0 714.6,474.0 715.4,480.0 717.6,480.0 718.4,477.0 720.6,477.0 721.4,483.0 723.6,483.0 724.4,483.0 726.6,483.0 727.4,474.0 729.6,474.0 730.4,474.0 732.6,474.0 733.4,477.0 735.6,477.0 736.4,480.0 738.6,480.0 739.4,480.0 741.6,480.0 742.4,471.0 744.6,471.0 745.4,477.0 747.6,477.0 748.4,480.0 750.6,480.0 751.4,483.0 753.6,483.0 754.4,471.0 756.6,471.0 757.4,474.0 759.6,474.0 760.4,483.0 762.6,483.0 763.4,486.0 765.6,486.0 766.4,477.0 768.6,477.0 769.4,486.0 771.6,486.0 772.4,480.0 774.6,480.0 775.4,483.0 777.6,483.0 778.4,480.0 780.6,480.0 781.4,489.0 783.6,489.0 784.4,486.0 786.6,486.0 787.4,489.0 789.6,489.0 790.4,483.0 792.6,483.0 793.4,486.0 795.6,486.0 796.4,486.0 798.6,486.0 799.4,489.0 801.6,489.0 802.4,495.0 804.6,495.0 805.4,486.0 807.6,486.0 808.4,492.0 810.6,492.0 811.4,489.0 813.6,489.0 814.4,495.0 816.6,495.0 817.4,495.0 819.6,495.0 820.4,498.0 822.6,498.0 823.4,495.0 825.6,495.0 826.4,486.0 828.6,486.0 829.4,480.0 831.6,480.0 832.4,501.0 834.6,501.0 835.4,495.0 837.6,495.0 838.4,489.0 840.6,489.0 841.4,492.0 843.6,492.0 844.4,495.0 846.6,495.0 847.4,489.0 849.6,489.0 850.4,507.0 852.6,507.0 853.4,504.0 855.6,504.0 856.4,513.0 858.6,513.0 859.4,504.0 861.6,504.0 862.4,510.0 864.6,510.0 865.4,510.0 867.6,510.0 868.4,507.0 870.6,507.0 871.4,510.0 873.6,510.0 874.4,519.0 876.6,519.0 877.4,513.0 879.6,513.0 880.4,501.0 882.6,501.0 883.4,519.0 885.6,519.0 886.4,513.0 888.6,513.0 889.4,519.0 891.6,519.0 892.4,516.0 894.6,516.0 895.4,510.0 897.6,510.0 898.4,510.0 900.6,510.0 901.4,516.0 903.6,516.0 904.4,510.0 906.6,510.0 907.4,513.0 909.6,513.0 910.4,516.0 912.6,516.0 913.4,513.0 915.6,513.0 916.4,504.0 918.6,504.0 919.4,516.0 921.6,516.0 922.4,513.0 924.6,513.0 925.4,522.0 927.6,522.0 928.4,519.0 930.6,519.0 931.4,522.0 933.6,522.0 934.4,516.0 936.6,516.0 937.4,513.0 939.6,513.0 940.4,510.0 942.6,510.0 943.4,516.0 945.6,516.0 946.4,516.0 948.6,516.0 949.4,528.0 951.6,528.0 952.4,507.0 954.6,507.0 955.4,519.0 957.6,519.0 958.4,522.0 960.6,522.0 961.4,510.0 963.6,510.0 964.4,516.0 966.6,516.0 967.4,519.0 969.6,519.0 970.4,519.0 972.6,519.0 973.4,513.0 975.6,513.0 976.4,519.0 978.6,519.0 979.4,513.0 981.6,513.0 982.4,516.0 984.6,516.0 985.4,516.0 987.6,516.0 988.4,516.0 990.6,516.0 991.4,510.0 993.6,510.0 994.4,525.0 996.6,525.0 997.4,519.0 999.6,519.0 1000.4,516.0 1002.6,516.0 1003.4,513.0 1005.6,513.0 1006.4,504.0 1008.6,504.0 1009.4,507.0 1011.6,507.0 1012.4,507.0 1014.6,507.0 1015.4,522.0 1017.6,522.0 1018.4,507.0 1020.6,507.0 1021.4,513.0 1023.6,513.0 1024.4,516.0 1026.6,516.0 1027.4,522.0 1029.6,522.0 1030.4,519.0 1032.6,519.0 1033.4,507.0 1035.6,507.0 1036.4,513.0 1038.6,513.0 1039.4,516.0 1041.6,516.0 1042.4,519.0 1044.6,519.0 1045.4,513.0 1047.6,513.0 1048.4,516.0 1050.6,516.0 1051.4,510.0 1053.6,510.0 1054.4,513.0 1056.6,513.0 1057.4,513.0 1059.6,513.0 1060.4,513.0 1062.6,513.0 1063.4,516.0 1065.6,516.0 1066.4,513.0 1068.6,513.0 1069.4,522.0 1071.6,522.0 1072.4,516.0 1074.6,516.0 1075.4,513.0 1077.6,513.0 1078.4,516.0 1080.6,516.0 1081.4,519.0 1083.6,519.0 1084.4,522.0 1086.6,522.0 1087.4,531.0 1089.6,531.0 1090.4,519.0 1092.6,519.0 1093.4,525.0 1095.6,525.0 1096.4,525.0 1098.6,525.0 1099.4,534.0 1101.6,534.0 1102.4,522.0 1104.6,522.0 1105.4,528.0 1107.6,528.0 1108.4,525.0 1110.6,525.0 1111.4,528.0 1113.6,528.0 1114.4,537.0 1116.6,537.0 1117.4,540.0 1119.6,540.0 1120.4,537.0 1122.6,537.0 1123.4,534.0 1125.6,534.0 1126.4,531.0 1128.6,531.0 1129.4,534.0 1131.6,534.0 1132.4,534.0 1134.6,534.0 1135.4,534.0 1137.6,534.0 1138.4,537.0 1140.6,537.0 1141.4,534.0 1143.6,534.0 1144.4,528.0 1146.6,528.0 1147.4,525.0 1149.6,525.0 1150.4,537.0 1152.6,537.0 1153.4,540.0 1155.6,540.0 1156.4,540.0 1158.6,540.0 1159.4,540.0 1161.6,540.0 1162.4,540.0 1164.6,540.0 1165.4,543.0 1167.6,543.0 1168.4,540.0 1170.6,540.0 1171.4,537.0 1173.6,537.0 1174.4,537.0 1176.6,537.0 1177.4,537.0 1179.6,537.0 1180.4,546.0 1182.6,546.0 1183.4,540.0 1185.6,540.0 1186.4,540.0 1188.6,540.0 1189.4,540.0 1191.6,540.0 1192.4,534.0 1194.6,534.0 1195.4,540.0 1197.6,540.0 1198.4,540.0 1200.6,540.0 1201.4,537.0 1203.6,537.0 1204.4,537.0 1206.6,537.0 1207.4,537.0 1209.6,537.0 1210.4,528.0 1212.6,528.0 1213.4,540.0 1215.6,540.0 1216.4,534.0 1218.6,534.0 1219.4,528.0 1221.6,528.0 1222.4,540.0 1224.6,540.0 1225.4,543.0 1227.6,543.0 1228.4,543.0 1230.6,543.0 1231.4,540.0 1233.6,540.0 1234.4,537.0 1236.6,537.0 1237.4,534.0 1239.6,534.0 1240.4,531.0 1242.6,531.0 1243.4,531.0 1245.6,531.0 1246.4,537.0 1248.6,537.0 1249.4,534.0 1251.6,534.0 1252.4,537.0 1254.6,537.0 1255.4,540.0 1257.6,540.0 1258.4,540.0 1260.6,540.0 1261.4,534.0 1263.6,534.0 1264.4,537.0 1266.6,537.0 1267.4,534.0 1269.6,534.0 1270.4,534.0 1272.6,534.0 1273.4,534.0 1275.6,534.0 1276.4,534.0 1278.6,534.0 1279.4,522.0 1281.6,522.0 1282.4,534.0 1284.6,534.0 1285.4,534.0 1287.6,534.0 1288.4,534.0 1290.6,534.0 1291.4,534.0 1293.6,534.0 1294.4,537.0 1296.6,537.0 1297.4,531.0 1299.6,531.0 1300.4,528.0 1302.6,528.0 1303.4,528.0 1305.6,528.0 1305.6,558.0 1303.4,558.0 1302.6,558.0 1300.4,558.0 1299.6,558.0 1297.4,558.0 1296.6,561.0 1294.4,561.0 1293.6,561.0 1291.4,561.0 1290.6,558.0 1288.4,558.0 1287.6,555.0 1285.4,555.0 1284.6,552.0 1282.4,552.0 1281.6,558.0 1279.4,558.0 1278.6,564.0 1276.4,564.0 1275.6,561.0 1273.4,561.0 1272.6,555.0 1270.4,555.0 1269.6,564.0 1267.4,564.0 1266.6,555.0 1264.4,555.0 1263.6,555.0 1261.4,555.0 1260.6,555.0 1258.4,555.0 1257.6,561.0 1255.4,561.0 1254.6,564.0 1252.4,564.0 1251.6,564.0 1249.4,564.0 1248.6,552.0 1246.4,552.0 1245.6,567.0 1243.4,567.0 1242.6,561.0 1240.4,561.0 1239.6,561.0 1237.4,561.0 1236.6,555.0 1234.4,555.0 1233.6,555.0 1231.4,555.0 1230.6,555.0 1228.4,555.0 1227.6,561.0 1225.4,561.0 1224.6,555.0 1222.4,555.0 1221.6,555.0 1219.4,555.0 1218.6,567.0 1216.4,567.0 1215.6,567.0 1213.4,567.0 1212.6,564.0 1210.4,564.0 1209.6,561.0 1207.4,561.0 1206.6,558.0 1204.4,558.0 1203.6,564.0 1201.4,564.0 1200.6,564.0 1198.4,564.0 1197.6,558.0 1195.4,558.0 1194.6,564.0 1192.4,564.0 1191.6,558.0 1189.4,558.0 1188.6,555.0 1186.4,555.0 1185.6,573.0 1183.4,573.0 1182.6,561.0 1180.4,561.0 1179.6,564.0 1177.4,564.0 1176.6,564.0 1174.4,564.0 1173.6,561.0 1171.4,561.0 1170.6,561.0 1168.4,561.0 1167.6,564.0 1165.4,564.0 1164.6,561.0 1162.4,561.0 1161.6,558.0 1159.4,558.0 1158.6,564.0 1156.4,564.0 1155.6,561.0 1153.4,561.0 1152.6,558.0 1150.4,558.0 1149.6,558.0 1147.4,558.0 1146.6,558.0 1144.4,558.0 1143.6,564.0 1141.4,564.0 1140.6,558.0 1138.4,558.0 1137.6,558.0 1135.4,558.0 1134.6,555.0 1132.4,555.0 1131.6,558.0 1129.4,558.0 1128.6,558.0 1126.4,558.0 1125.6,561.0 1123.4,561.0 1122.6,564.0 1120.4,564.0 1119.6,564.0 1117.4,564.0 1116.6,564.0 1114.4,564.0 1113.6,552.0 1111.4,552.0 1110.6,546.0 1108.4,546.0 1107.6,561.0 1105.4,561.0 1104.6,561.0 1102.4,561.0 1101.6,558.0 1099.4,558.0 1098.6,552.0 1096.4,552.0 1095.6,552.0 1093.4,552.0 1092.6,552.0 1090.4,552.0 1089.6,549.0 1087.4,549.0 1086.6,546.0 1084.4,546.0 1083.6,549.0 1081.4,549.0 1080.6,543.0 1078.4,543.0 1077.6,555.0 1075.4,555.0 1074.6,552.0 1072.4,552.0 1071.6,549.0 1069.4,549.0 1068.6,549.0 1066.4,549.0 1065.6,549.0 1063.4,549.0 1062.6,537.0 1060.4,537.0 1059.6,543.0 1057.4,543.0 1056.6,540.0 1054.4,540.0 1053.6,546.0 1051.4,546.0 1050.6,540.0 1048.4,540.0 1047.6,540.0 1045.4,540.0 1044.6,543.0 1042.4,543.0 1041.6,537.0 1039.4,537.0 1038.6,543.0 1036.4,543.0 1035.6,540.0 1033.4,540.0 1032.6,546.0 1030.4,546.0 1029.6,540.0 1027.4,540.0 1026.6,528.0 1024.4,528.0 1023.6,540.0 1021.4,540.0 1020.6,534.0 1018.4,534.0 1017.6,537.0 1015.4,537.0 1014.6,534.0 1012.4,534.0 1011.6,531.0 1009.4,531.0 1008.6,537.0 1006.4,537.0 1005.6,540.0 1003.4,540.0 1002.6,540.0 1000.4,540.0 999.6,540.0 997.4,540.0 996.6,543.0 994.4,543.0 993.6,537.0 991.4,537.0 990.6,540.0 988.4,540.0 987.6,543.0 985.4,543.0 984.6,546.0 982.4,546.0 981.6,543.0 979.4,543.0 978.6,546.0 976.4,546.0 975.6,549.0 973.4,549.0 972.6,549.0 970.4,549.0 969.6,540.0 967.4,540.0 966.6,552.0 964.4,552.0 963.6,540.0 961.4,540.0 960.6,543.0 958.4,543.0 957.6,546.0 955.4,546.0 954.6,546.0 952.4,546.0 951.6,546.0 949.4,546.0 948.6,543.0 946.4,543.0 945.6,543.0 943.4,543.0 942.6,540.0 940.4,540.0 939.6,543.0 937.4,543.0 936.6,543.0 934.4,543.0 933.6,537.0 931.4,537.0 930.6,543.0 928.4,543.0 927.6,549.0 925.4,549.0 924.6,543.0 922.4,543.0 921.6,540.0 919.4,540.0 918.6,540.0 916.4,540.0 915.6,543.0 913.4,543.0 912.6,537.0 910.4,537.0 909.6,543.0 907.4,543.0 906.6,543.0 904.4,543.0 903.6,540.0 901.4,540.0 900.6,549.0 898.4,549.0 897.6,543.0 895.4,543.0 894.6,543.0 892.4,543.0 891.6,537.0 889.4,537.0 888.6,534.0 886.4,534.0 885.6,540.0 883.4,540.0 882.6,543.0 880.4,543.0 879.6,543.0 877.4,543.0 876.6,534.0 874.4,534.0 873.6,531.0 871.4,531.0 870.6,537.0 868.4,537.0 867.6,525.0 865.4,525.0 864.6,537.0 862.4,537.0 861.6,537.0 859.4,537.0 858.6,534.0 856.4,534.0 855.6,525.0 853.4,525.0 852.6,525.0 850.4,525.0 849.6,519.0 847.4,519.0 846.6,528.0 844.4,528.0 843.6,519.0 841.4,519.0 840.6,522.0 838.4,522.0 837.6,531.0 835.4,531.0 834.6,531.0 832.4,531.0 831.6,525.0 829.4,525.0 828.6,519.0 826.4,519.0 825.6,519.0 823.4,519.0 822.6,513.0 820.4,513.0 819.6,522.0 817.4,522.0 816.6,519.0 814.4,519.0 813.6,513.0 811.4,513.0 810.6,519.0 808.4,519.0 807.6,516.0 805.4,516.0 804.6,516.0 802.4,516.0 801.6,516.0 799.4,516.0 798.6,513.0 796.4,513.0 795.6,519.0 793.4,519.0 792.6,510.0 790.4,510.0 789.6,510.0 787.4,510.0 786.6,507.0 784.4,507.0 783.6,510.0 781.4,510.0 780.6,510.0 778.4,510.0 777.6,507.0 775.4,507.0 774.6,498.0 772.4,498.0 771.6,513.0 769.4,513.0 768.6,507.0 766.4,507.0 765.6,504.0 763.4,504.0 762.6,507.0 760.4,507.0 759.6,495.0 757.4,495.0 756.6,510.0 754.4,510.0 753.6,504.0 751.4,504.0 750.6,510.0 748.4,510.0 747.6,495.0 745.4,495.0 744.6,498.0 742.4,498.0 741.6,501.0 739.4,501.0 738.6,504.0 736.4,504.0 735.6,513.0 733.4,513.0 732.6,501.0 730.4,501.0 729.6,498.0 727.4,498.0 726.6,507.0 724.4,507.0 723.6,510.0 721.4,510.0 720.6,504.0 718.4,504.0 717.6,513.0 715.4,513.0 714.6,507.0 712.4,507.0 711.6,501.0 709.4,501.0 708.6,510.0 706.4,510.0 705.6,507.0 703.4,507.0 702.6,516.0 700.4,516.0 699.6,501.0 697.4,501.0 696.6,507.0 694.4,507.0 693.6,528.0 691.4,528.0 690.6,510.0 688.4,510.0 687.6,516.0 685.4,516.0 684.6,519.0 682.4,519.0 681.6,519.0 679.4,519.0 678.6,510.0 676.4,510.0 675.6,513.0 673.4,513.0 672.6,516.0 670.4,516.0 669.6,519.0 667.4,519.0 666.6,513.0 664.4,513.0 663.6,507.0 661.4,507.0 660.6,516.0 658.4,516.0 657.6,507.0 655.4,507.0 654.6,519.0 652.4,519.0 651.6,507.0 649.4,507.0 648.6,504.0 646.4,504.0 645.6,507.0 643.4,507.0 642.6,498.0 640.4,498.0 639.6,498.0 637.4,498.0 636.6,507.0 634.4,507.0 633.6,504.0 631.4,504.0 630.6,495.0 628.4,495.0 627.6,504.0 625.4,504.0 624.6,498.0 622.4,498.0 621.6,495.0 619.4,495.0 618.6,495.0 616.4,495.0 615.6,495.0 613.4,495.0 612.6,498.0 610.4,498.0 609.6,504.0 607.4,504.0 606.6,501.0 604.4,501.0 603.6,501.0 601.4,501.0 600.6,501.0 598.4,501.0 597.6,495.0 595.4,495.0 594.6,492.0 592.4,492.0 591.6,501.0 589.4,501.0 588.6,510.0 586.4,510.0 585.6,501.0 583.4,501.0 582.6,513.0 580.4,513.0 579.6,513.0 577.4,513.0 576.6,510.0 574.4,510.0 573.6,504.0 571.4,504.0 570.6,507.0 568.4,507.0 567.6,507.0 565.4,507.0 564.6,516.0 562.4,516.0 561.6,513.0 559.4,513.0 558.6,504.0 556.4,504.0 555.6,510.0 553.4,510.0 552.6,522.0 550.4,522.0 549.6,522.0 547.4,522.0 546.6,516.0 544.4,516.0 543.6,519.0 541.4,519.0 540.6,519.0 538.4,519.0 537.6,519.0 535.4,519.0 534.6,522.0 532.4,522.0 531.6,531.0 529.4,531.0 528.6,525.0 526.4,525.0 525.6,528.0 523.4,528.0 522.6,537.0 520.4,537.0 519.6,525.0 517.4,525.0 516.6,534.0 514.4,534.0 513.6,540.0 511.4,540.0 510.6,525.0 508.4,525.0 507.6,537.0 505.4,537.0 504.6,540.0 502.4,540.0 501.6,525.0 499.4,525.0 498.6,537.0 496.4,537.0 495.6,528.0 493.4,528.0 492.6,534.0 490.4,534.0 489.6,528.0 487.4,528.0 486.6,531.0 484.4,531.0 483.6,540.0 481.4,540.0 480.6,540.0 478.4,540.0 477.6,537.0 475.4,537.0 474.6,534.0 472.4,534.0 471.6,540.0 469.4,540.0 468.6,549.0 466.4,549.0 465.6,546.0 463.4,546.0 462.6,543.0 460.4,543.0 459.6,534.0 457.4,534.0 456.6,540.0 454.4,540.0 453.6,546.0 451.4,546.0 450.6,534.0 448.4,534.0 447.6,540.0 445.4,540.0 444.6,543.0 442.4,543.0 441.6,534.0 439.4,534.0 438.6,531.0 436.4,531.0 435.6,531.0 433.4,531.0 432.6,540.0 430.4,540.0 429.6,534.0 427.4,534.0 426.6,540.0 424.4,540.0 423.6,543.0 421.4,543.0 420.6,546.0 418.4,546.0 417.6,546.0 415.4,546.0 414.6,540.0 412.4,540.0 411.6,537.0 409.4,537.0 408.6,534.0 406.4,534.0 405.6,540.0 403.4,540.0 402.6,534.0 400.4,534.0 399.6,537.0 397.4,537.0 396.6,534.0 394.4,534.0 393.6,534.0 391.4,534.0 390.6,534.0 388.4,534.0 387.6,534.0 385.4,534.0 384.6,537.0 382.4,537.0 381.6,528.0 379.4,528.0 378.6,528.0 376.4,528.0 375.6,531.0 373.4,531.0 372.6,528.0 370.4,528.0 369.6,522.0 367.4,522.0 366.6,540.0 364.4,540.0 363.6,534.0 361.4,534.0 360.6,528.0 358.4,528.0 357.6,525.0 355.4,525.0 354.6,534.0 352.4,534.0 351.6,531.0 349.4,531.0 348.6,537.0 346.4,537.0 345.6,534.0 343.4,534.0 342.6,528.0 340.4,528.0 339.6,531.0 337.4,531.0 336.6,522.0 334.4,522.0 333.6,528.0 331.4,528.0 330.6,528.0 328.4,528.0 327.6,534.0 325.4,534.0 324.6,534.0 322.4,534.0 321.6,528.0 319.4,528.0 318.6,534.0 316.4,534.0 315.6,522.0 313.4,522.0 312.6,531.0 310.4,531.0 309.6,531.0 307.4,531.0 306.6,528.0 304.4,528.0 303.6,531.0 301.4,531.0 300.6,537.0 298.4,537.0 297.6,534.0 295.4,534.0 294.6,531.0 292.4,531.0 291.6,531.0 289.4,531.0 288.6,540.0 286.4,540.0 285.6,534.0 283.4,534.0 282.6,543.0 280.4,543.0 279.6,537.0 277.4,537.0 276.6,534.0 274.4,534.0 273.6,540.0 271.4,540.0 270.6,534.0 268.4,534.0 267.6,531.0 265.4,531.0 264.6,531.0 262.4,531.0 261.6,537.0 259.4,537.0 258.6,537.0 256.4,537.0 255.6,537.0 253.4,537.0 252.6,534.0 250.4,534.0 249.6,528.0 247.4,528.0 246.6,534.0 244.4,534.0 243.6,531.0 241.4,531.0 240.6,531.0 238.4,531.0 237.6,534.0 235.4,534.0 234.6,537.0 232.4,537.0 231.6,528.0 229.4,528.0 228.6,522.0 226.4,522.0 225.6,528.0 223.4,528.0 222.6,525.0 220.4,525.0 219.6,525.0 217.4,525.0 216.6,522.0 214.4,522.0 213.6,528.0 211.4,528.0 210.6,534.0 208.4,534.0 207.6,534.0 205.4,534.0 204.6,522.0 202.4,522.0 201.6,528.0 199.4,528.0 198.6,519.0 196.4,519.0 195.6,516.0 193.4,516.0 192.6,516.0 190.4,516.0 189.6,516.0 187.4,516.0 186.6,513.0 184.4,513.0 183.6,513.0 181.4,513.0 180.6,507.0 178.4,507.0 177.6,504.0 175.4,504.0 174.6,516.0 172.4,516.0 171.6,507.0 169.4,507.0 168.6,501.0 166.4,501.0 165.6,507.0 163.4,507.0 162.6,495.0 160.4,495.0 159.6,495.0 157.4,495.0 156.6,486.0 154.4,486.0 153.6,489.0 151.4,489.0 150.6,468.0 148.4,468.0 147.6,429.0 145.4,429.0Z" fill="#5ea8b9" stroke="#5ea8b9" stroke-width="3.0" transform="translate(0,181)"/>
<path d="M125,526 129.5,526 135,553 139,526 140,523 146.5,523 148,561 149,606 125,606Z" fill="#5ea8b9" />
<path d="M130.4,609.0 132.6,609.0 133.4,801.0 135.6,801.0 136.4,945.0 138.6,945.0 139.4,960.0 141.6,960.0 142.4,981.0 144.6,981.0 145.4,993.0 147.6,993.0 148.4,996.0 150.6,996.0 151.4,1002.0 153.6,1002.0 154.4,1005.0 156.6,1005.0 157.4,1005.0 159.6,1005.0 160.4,1011.0 162.6,1011.0 163.4,1020.0 165.6,1020.0 166.4,1017.0 168.6,1017.0 169.4,1017.0 171.6,1017.0 172.4,1023.0 174.6,1023.0 175.4,1020.0 177.6,1020.0 178.4,1035.0 180.6,1035.0 181.4,1035.0 183.6,1035.0 184.4,1029.0 186.6,1029.0 187.4,1035.0 189.6,1035.0 190.4,1041.0 192.6,1041.0 193.4,1041.0 195.6,1041.0 196.4,1029.0 198.6,1029.0 199.4,1029.0 201.6,1029.0 202.4,1029.0 204.6,1029.0 205.4,1029.0 207.6,1029.0 208.4,1029.0 210.6,1029.0 211.4,1041.0 213.6,1041.0 214.4,1035.0 216.6,1035.0 217.4,1038.0 219.6,1038.0 220.4,1038.0 222.6,1038.0 223.4,1041.0 225.6,1041.0 226.4,1050.0 228.6,1050.0 229.4,1044.0 231.6,1044.0 232.4,1044.0 234.6,1044.0 235.4,1059.0 237.6,1059.0 238.4,1053.0 240.6,1053.0 241.4,1059.0 243.6,1059.0 244.4,1062.0 246.6,1062.0 247.4,1059.0 249.6,1059.0 250.4,1059.0 252.6,1059.0 253.4,1062.0 255.6,1062.0 256.4,1068.0 258.6,1068.0 259.4,1059.0 261.6,1059.0 262.4,1062.0 264.6,1062.0 265.4,1065.0 267.6,1065.0 268.4,1065.0 270.6,1065.0 271.4,1065.0 273.6,1065.0 274.4,1062.0 276.6,1062.0 277.4,1056.0 279.6,1056.0 280.4,1053.0 282.6,1053.0 283.4,1050.0 285.6,1050.0 286.4,1062.0 288.6,1062.0 289.4,1053.0 291.6,1053.0 292.4,1056.0 294.6,1056.0 295.4,1062.0 297.6,1062.0 298.4,1056.0 300.6,1056.0 301.4,1053.0 303.6,1053.0 304.4,1053.0 306.6,1053.0 307.4,1056.0 309.6,1056.0 310.4,1050.0 312.6,1050.0 313.4,1059.0 315.6,1059.0 316.4,1050.0 318.6,1050.0 319.4,1056.0 321.6,1056.0 322.4,1053.0 324.6,1053.0 325.4,1047.0 327.6,1047.0 328.4,1044.0 330.6,1044.0 331.4,1044.0 333.6,1044.0 334.4,1041.0 336.6,1041.0 337.4,1035.0 339.6,1035.0 340.4,1038.0 342.6,1038.0 343.4,1023.0 345.6,1023.0 346.4,1035.0 348.6,1035.0 349.4,1038.0 351.6,1038.0 352.4,1038.0 354.6,1038.0 355.4,1023.0 357.6,1023.0 358.4,1023.0 360.6,1023.0 361.4,1023.0 363.6,1023.0 364.4,1023.0 366.6,1023.0 367.4,1029.0 369.6,1029.0 370.4,1020.0 372.6,1020.0 373.4,1017.0 375.6,1017.0 376.4,1020.0 378.6,1020.0 379.4,1011.0 381.6,1011.0 382.4,1023.0 384.6,1023.0 385.4,1008.0 387.6,1008.0 388.4,1014.0 390.6,1014.0 391.4,1017.0 393.6,1017.0 394.4,1026.0 396.6,1026.0 397.4,1020.0 399.6,1020.0 400.4,1020.0 402.6,1020.0 403.4,1011.0 405.6,1011.0 406.4,1017.0 408.6,1017.0 409.4,1011.0 411.6,1011.0 412.4,1029.0 414.6,1029.0 415.4,1011.0 417.6,1011.0 418.4,1023.0 420.6,1023.0 421.4,1017.0 423.6,1017.0 424.4,1020.0 426.6,1020.0 427.4,1011.0 429.6,1011.0 430.4,1011.0 432.6,1011.0 433.4,1020.0 435.6,1020.0 436.4,1020.0 438.6,1020.0 439.4,1014.0 441.6,1014.0 442.4,1023.0 444.6,1023.0 445.4,1020.0 447.6,1020.0 448.4,1029.0 450.6,1029.0 451.4,1032.0 453.6,1032.0 454.4,1020.0 456.6,1020.0 457.4,1032.0 459.6,1032.0 460.4,1032.0 462.6,1032.0 463.4,1038.0 465.6,1038.0 466.4,1035.0 468.6,1035.0 469.4,1026.0 471.6,1026.0 472.4,1026.0 474.6,1026.0 475.4,1035.0 477.6,1035.0 478.4,1035.0 480.6,1035.0 481.4,1038.0 483.6,1038.0 484.4,1035.0 486.6,1035.0 487.4,1035.0 489.6,1035.0 490.4,1035.0 492.6,1035.0 493.4,1038.0 495.6,1038.0 496.4,1041.0 498.6,1041.0 499.4,1035.0 501.6,1035.0 502.4,1029.0 504.6,1029.0 505.4,1029.0 507.6,1029.0 508.4,1023.0 510.6,1023.0 511.4,1020.0 513.6,1020.0 514.4,1035.0 516.6,1035.0 517.4,1023.0 519.6,1023.0 520.4,1029.0 522.6,1029.0 523.4,1029.0 525.6,1029.0 526.4,1020.0 528.6,1020.0 529.4,1005.0 531.6,1005.0 532.4,1023.0 534.6,1023.0 535.4,1020.0 537.6,1020.0 538.4,1014.0 540.6,1014.0 541.4,1020.0 543.6,1020.0 544.4,1023.0 546.6,1023.0 547.4,1023.0 549.6,1023.0 550.4,1026.0 552.6,1026.0 553.4,1023.0 555.6,1023.0 556.4,1023.0 558.6,1023.0 559.4,1026.0 561.6,1026.0 562.4,1026.0 564.6,1026.0 565.4,1029.0 567.6,1029.0 568.4,1008.0 570.6,1008.0 571.4,1029.0 573.6,1029.0 574.4,1032.0 576.6,1032.0 577.4,1011.0 579.6,1011.0 580.4,1029.0 582.6,1029.0 583.4,1032.0 585.6,1032.0 586.4,1029.0 588.6,1029.0 589.4,1026.0 591.6,1026.0 592.4,1023.0 594.6,1023.0 595.4,1029.0 597.6,1029.0 598.4,1017.0 600.6,1017.0 601.4,1023.0 603.6,1023.0 604.4,1032.0 606.6,1032.0 607.4,1026.0 609.6,1026.0 610.4,1029.0 612.6,1029.0 613.4,1029.0 615.6,1029.0 616.4,1035.0 618.6,1035.0 619.4,1029.0 621.6,1029.0 622.4,1038.0 624.6,1038.0 625.4,1044.0 627.6,1044.0 628.4,1032.0 630.6,1032.0 631.4,1038.0 633.6,1038.0 634.4,1032.0 636.6,1032.0 637.4,1044.0 639.6,1044.0 640.4,1032.0 642.6,1032.0 643.4,1041.0 645.6,1041.0 646.4,1047.0 648.6,1047.0 649.4,1038.0 651.6,1038.0 652.4,1050.0 654.6,1050.0 655.4,1047.0 657.6,1047.0 658.4,1047.0 660.6,1047.0 661.4,1047.0 663.6,1047.0 664.4,1050.0 666.6,1050.0 667.4,1053.0 669.6,1053.0 670.4,1056.0 672.6,1056.0 673.4,1053.0 675.6,1053.0 676.4,1056.0 678.6,1056.0 679.4,1050.0 681.6,1050.0 682.4,1047.0 684.6,1047.0 685.4,1050.0 687.6,1050.0 688.4,1047.0 690.6,1047.0 691.4,1056.0 693.6,1056.0 694.4,1047.0 696.6,1047.0 697.4,1053.0 699.6,1053.0 700.4,1053.0 702.6,1053.0 703.4,1041.0 705.6,1041.0 706.4,1041.0 708.6,1041.0 709.4,1050.0 711.6,1050.0 712.4,1047.0 714.6,1047.0 715.4,1035.0 717.6,1035.0 718.4,1035.0 720.6,1035.0 721.4,1047.0 723.6,1047.0 724.4,1035.0 726.6,1035.0 727.4,1041.0 729.6,1041.0 730.4,1044.0 732.6,1044.0 733.4,1047.0 735.6,1047.0 736.4,1047.0 738.6,1047.0 739.4,1041.0 741.6,1041.0 742.4,1041.0 744.6,1041.0 745.4,1047.0 747.6,1047.0 748.4,1044.0 750.6,1044.0 751.4,1041.0 753.6,1041.0 754.4,1038.0 756.6,1038.0 757.4,1041.0 759.6,1041.0 760.4,1044.0 762.6,1044.0 763.4,1044.0 765.6,1044.0 766.4,1041.0 768.6,1041.0 769.4,1041.0 771.6,1041.0 772.4,1047.0 774.6,1047.0 775.4,1047.0 777.6,1047.0 778.4,1038.0 780.6,1038.0 781.4,1032.0 783.6,1032.0 784.4,1044.0 786.6,1044.0 787.4,1041.0 789.6,1041.0 790.4,1038.0 792.6,1038.0 793.4,1038.0 795.6,1038.0 796.4,1026.0 798.6,1026.0 799.4,1032.0 801.6,1032.0 802.4,1035.0 804.6,1035.0 805.4,1032.0 807.6,1032.0 808.4,1035.0 810.6,1035.0 811.4,1038.0 813.6,1038.0 814.4,1035.0 816.6,1035.0 817.4,1032.0 819.6,1032.0 820.4,1032.0 822.6,1032.0 823.4,1029.0 825.6,1029.0 826.4,1032.0 828.6,1032.0 829.4,1035.0 831.6,1035.0 832.4,1032.0 834.6,1032.0 835.4,1032.0 837.6,1032.0 838.4,1041.0 840.6,1041.0 841.4,1035.0 843.6,1035.0 844.4,1035.0 846.6,1035.0 847.4,1044.0 849.6,1044.0 850.4,1041.0 852.6,1041.0 853.4,1041.0 855.6,1041.0 856.4,1038.0 858.6,1038.0 859.4,1038.0 861.6,1038.0 862.4,1035.0 864.6,1035.0 865.4,1029.0 867.6,1029.0 868.4,1029.0 870.6,1029.0 871.4,1044.0 873.6,1044.0 874.4,1038.0 876.6,1038.0 877.4,1032.0 879.6,1032.0 880.4,1038.0 882.6,1038.0 883.4,1044.0 885.6,1044.0 886.4,1044.0 888.6,1044.0 889.4,1032.0 891.6,1032.0 892.4,1032.0 894.6,1032.0 895.4,1047.0 897.6,1047.0 898.4,1032.0 900.6,1032.0 901.4,1032.0 903.6,1032.0 904.4,1041.0 906.6,1041.0 907.4,1044.0 909.6,1044.0 910.4,1044.0 912.6,1044.0 913.4,1044.0 915.6,1044.0 916.4,1044.0 918.6,1044.0 919.4,1050.0 921.6,1050.0 922.4,1050.0 924.6,1050.0 925.4,1041.0 927.6,1041.0 928.4,1044.0 930.6,1044.0 931.4,1047.0 933.6,1047.0 934.4,1044.0 936.6,1044.0 937.4,1044.0 939.6,1044.0 940.4,1050.0 942.6,1050.0 943.4,1053.0 945.6,1053.0 946.4,1053.0 948.6,1053.0 949.4,1056.0 951.6,1056.0 952.4,1059.0 954.6,1059.0 955.4,1056.0 957.6,1056.0 958.4,1044.0 960.6,1044.0 961.4,1044.0 963.6,1044.0 964.4,1053.0 966.6,1053.0 967.4,1062.0 969.6,1062.0 970.4,1050.0 972.6,1050.0 973.4,1053.0 975.6,1053.0 976.4,1044.0 978.6,1044.0 979.4,1047.0 981.6,1047.0 982.4,1047.0 984.6,1047.0 985.4,1056.0 987.6,1056.0 988.4,1056.0 990.6,1056.0 991.4,1053.0 993.6,1053.0 994.4,1059.0 996.6,1059.0 997.4,1056.0 999.6,1056.0 1000.4,1053.0 1002.6,1053.0 1003.4,1059.0 1005.6,1059.0 1006.4,1053.0 1008.6,1053.0 1009.4,1053.0 1011.6,1053.0 1012.4,1056.0 1014.6,1056.0 1015.4,1065.0 1017.6,1065.0 1018.4,1059.0 1020.6,1059.0 1021.4,1050.0 1023.6,1050.0 1024.4,1053.0 1026.6,1053.0 1027.4,1053.0 1029.6,1053.0 1030.4,1068.0 1032.6,1068.0 1033.4,1053.0 1035.6,1053.0 1036.4,1059.0 1038.6,1059.0 1039.4,1062.0 1041.6,1062.0 1042.4,1074.0 1044.6,1074.0 1045.4,1059.0 1047.6,1059.0 1048.4,1059.0 1050.6,1059.0 1051.4,1065.0 1053.6,1065.0 1054.4,1059.0 1056.6,1059.0 1057.4,1071.0 1059.6,1071.0 1060.4,1065.0 1062.6,1065.0 1063.4,1053.0 1065.6,1053.0 1066.4,1059.0 1068.6,1059.0 1069.4,1062.0 1071.6,1062.0 1072.4,1062.0 1074.6,1062.0 1075.4,1068.0 1077.6,1068.0 1078.4,1062.0 1080.6,1062.0 1081.4,1062.0 1083.6,1062.0 1084.4,1068.0 1086.6,1068.0 1087.4,1068.0 1089.6,1068.0 1090.4,1056.0 1092.6,1056.0 1093.4,1080.0 1095.6,1080.0 1096.4,1077.0 1098.6,1077.0 1099.4,1074.0 1101.6,1074.0 1102.4,1074.0 1104.6,1074.0 1105.4,1077.0 1107.6,1077.0 1108.4,1068.0 1110.6,1068.0 1111.4,1068.0 1113.6,1068.0 1114.4,1080.0 1116.6,1080.0 1117.4,1077.0 1119.6,1077.0 1120.4,1074.0 1122.6,1074.0 1123.4,1080.0 1125.6,1080.0 1126.4,1080.0 1128.6,1080.0 1129.4,1071.0 1131.6,1071.0 1132.4,1080.0 1134.6,1080.0 1135.4,1083.0 1137.6,1083.0 1138.4,1086.0 1140.6,1086.0 1141.4,1077.0 1143.6,1077.0 1144.4,1077.0 1146.6,1077.0 1147.4,1083.0 1149.6,1083.0 1150.4,1083.0 1152.6,1083.0 1153.4,1086.0 1155.6,1086.0 1156.4,1086.0 1158.6,1086.0 1159.4,1086.0 1161.6,1086.0 1162.4,1092.0 1164.6,1092.0 1165.4,1086.0 1167.6,1086.0 1168.4,1092.0 1170.6,1092.0 1171.4,1083.0 1173.6,1083.0 1174.4,1086.0 1176.6,1086.0 1177.4,1083.0 1179.6,1083.0 1180.4,1089.0 1182.6,1089.0 1183.4,1083.0 1185.6,1083.0 1186.4,1086.0 1188.6,1086.0 1189.4,1083.0 1191.6,1083.0 1192.4,1080.0 1194.6,1080.0 1195.4,1080.0 1197.6,1080.0 1198.4,1086.0 1200.6,1086.0 1201.4,1077.0 1203.6,1077.0 1204.4,1086.0 1206.6,1086.0 1207.4,1092.0 1209.6,1092.0 1210.4,1086.0 1212.6,1086.0 1213.4,1092.0 1215.6,1092.0 1216.4,1077.0 1218.6,1077.0 1219.4,1077.0 1221.6,1077.0 1222.4,1077.0 1224.6,1077.0 1225.4,1089.0 1227.6,1089.0 1228.4,1092.0 1230.6,1092.0 1231.4,1086.0 1233.6,1086.0 1234.4,1086.0 1236.6,1086.0 1237.4,1092.0 1239.6,1092.0 1240.4,1083.0 1242.6,1083.0 1243.4,1077.0 1245.6,1077.0 1246.4,1083.0 1248.6,1083.0 1249.4,1089.0 1251.6,1089.0 1252.4,1089.0 1254.6,1089.0 1255.4,1086.0 1257.6,1086.0 1258.4,1086.0 1260.6,1086.0 1261.4,1080.0 1263.6,1080.0 1264.4,1089.0 1266.6,1089.0 1267.4,1083.0 1269.6,1083.0 1270.4,1083.0 1272.6,1083.0 1273.4,1080.0 1275.6,1080.0 1276.4,1080.0 1278.6,1080.0 1279.4,1083.0 1281.6,1083.0 1282.4,1077.0 1284.6,1077.0 1285.4,1086.0 1287.6,1086.0 1288.4,1086.0 1290.6,1086.0 1291.4,1086.0 1293.6,1086.0 1294.4,1083.0 1296.6,1083.0 1297.4,1095.0 1299.6,1095.0 1300.4,1080.0 1302.6,1080.0 1303.4,1086.0 1305.6,1086.0 1305.6,1107.0 1303.4,1107.0 1302.6,1107.0 1300.4,1107.0 1299.6,1116.0 1297.4,1116.0 1296.6,1116.0 1294.4,1116.0 1293.6,1113.0 1291.4,1113.0 1290.6,1110.0 1288.4,1110.0 1287.6,1110.0 1285.4,1110.0 1284.6,1113.0 1282.4,1113.0 1281.6,1110.0 1279.4,1110.0 1278.6,1113.0 1276.4,1113.0 1275.6,1110.0 1273.4,1110.0 1272.6,1107.0 1270.4,1107.0 1269.6,1110.0 1267.4,1110.0 1266.6,1110.0 1264.4,1110.0 1263.6,1107.0 1261.4,1107.0 1260.6,1110.0 1258.4,1110.0 1257.6,1110.0 1255.4,1110.0 1254.6,1113.0 1252.4,1113.0 1251.6,1110.0 1249.4,1110.0 1248.6,1110.0 1246.4,1110.0 1245.6,1110.0 1243.4,1110.0 1242.6,1110.0 1240.4,1110.0 1239.6,1110.0 1237.4,1110.0 1236.6,1104.0 1234.4,1104.0 1233.6,1107.0 1231.4,1107.0 1230.6,1113.0 1228.4,1113.0 1227.6,1113.0 1225.4,1113.0 1224.6,1110.0 1222.4,1110.0 1221.6,1110.0 1219.4,1110.0 1218.6,1119.0 1216.4,1119.0 1215.6,1110.0 1213.4,1110.0 1212.6,1104.0 1210.4,1104.0 1209.6,1113.0 1207.4,1113.0 1206.6,1113.0 1204.4,1113.0 1203.6,1110.0 1201.4,1110.0 1200.6,1107.0 1198.4,1107.0 1197.6,1107.0 1195.4,1107.0 1194.6,1104.0 1192.4,1104.0 1191.6,1116.0 1189.4,1116.0 1188.6,1113.0 1186.4,1113.0 1185.6,1110.0 1183.4,1110.0 1182.6,1116.0 1180.4,1116.0 1179.6,1110.0 1177.4,1110.0 1176.6,1113.0 1174.4,1113.0 1173.6,1116.0 1171.4,1116.0 1170.6,1104.0 1168.4,1104.0 1167.6,1107.0 1165.4,1107.0 1164.6,1107.0 1162.4,1107.0 1161.6,1110.0 1159.4,1110.0 1158.6,1113.0 1156.4,1113.0 1155.6,1113.0 1153.4,1113.0 1152.6,1107.0 1150.4,1107.0 1149.6,1107.0 1147.4,1107.0 1146.6,1116.0 1144.4,1116.0 1143.6,1116.0 1141.4,1116.0 1140.6,1107.0 1138.4,1107.0 1137.6,1107.0 1135.4,1107.0 1134.6,1104.0 1132.4,1104.0 1131.6,1104.0 1129.4,1104.0 1128.6,1110.0 1126.4,1110.0 1125.6,1107.0 1123.4,1107.0 1122.6,1104.0 1120.4,1104.0 1119.6,1104.0 1117.4,1104.0 1116.6,1110.0 1114.4,1110.0 1113.6,1101.0 1111.4,1101.0 1110.6,1104.0 1108.4,1104.0 1107.6,1104.0 1105.4,1104.0 1104.6,1092.0 1102.4,1092.0 1101.6,1104.0 1099.4,1104.0 1098.6,1116.0 1096.4,1116.0 1095.6,1092.0 1093.4,1092.0 1092.6,1092.0 1090.4,1092.0 1089.6,1092.0 1087.4,1092.0 1086.6,1092.0 1084.4,1092.0 1083.6,1095.0 1081.4,1095.0 1080.6,1086.0 1078.4,1086.0 1077.6,1104.0 1075.4,1104.0 1074.6,1092.0 1072.4,1092.0 1071.6,1092.0 1069.4,1092.0 1068.6,1095.0 1066.4,1095.0 1065.6,1095.0 1063.4,1095.0 1062.6,1092.0 1060.4,1092.0 1059.6,1092.0 1057.4,1092.0 1056.6,1089.0 1054.4,1089.0 1053.6,1092.0 1051.4,1092.0 1050.6,1098.0 1048.4,1098.0 1047.6,1080.0 1045.4,1080.0 1044.6,1089.0 1042.4,1089.0 1041.6,1089.0 1039.4,1089.0 1038.6,1089.0 1036.4,1089.0 1035.6,1083.0 1033.4,1083.0 1032.6,1083.0 1030.4,1083.0 1029.6,1077.0 1027.4,1077.0 1026.6,1086.0 1024.4,1086.0 1023.6,1080.0 1021.4,1080.0 1020.6,1077.0 1018.4,1077.0 1017.6,1080.0 1015.4,1080.0 1014.6,1080.0 1012.4,1080.0 1011.6,1080.0 1009.4,1080.0 1008.6,1086.0 1006.4,1086.0 1005.6,1083.0 1003.4,1083.0 1002.6,1086.0 1000.4,1086.0 999.6,1089.0 997.4,1089.0 996.6,1074.0 994.4,1074.0 993.6,1092.0 991.4,1092.0 990.6,1077.0 988.4,1077.0 987.6,1074.0 985.4,1074.0 984.6,1077.0 982.4,1077.0 981.6,1080.0 979.4,1080.0 978.6,1071.0 976.4,1071.0 975.6,1077.0 973.4,1077.0 972.6,1083.0 970.4,1083.0 969.6,1083.0 967.4,1083.0 966.6,1080.0 964.4,1080.0 963.6,1080.0 961.4,1080.0 960.6,1074.0 958.4,1074.0 957.6,1077.0 955.4,1077.0 954.6,1077.0 952.4,1077.0 951.6,1086.0 949.4,1086.0 948.6,1089.0 946.4,1089.0 945.6,1080.0 943.4,1080.0 942.6,1080.0 940.4,1080.0 939.6,1074.0 937.4,1074.0 936.6,1074.0 934.4,1074.0 933.6,1077.0 931.4,1077.0 930.6,1074.0 928.4,1074.0 927.6,1077.0 925.4,1077.0 924.6,1068.0 922.4,1068.0 921.6,1071.0 919.4,1071.0 918.6,1065.0 916.4,1065.0 915.6,1077.0 913.4,1077.0 912.6,1074.0 910.4,1074.0 909.6,1074.0 907.4,1074.0 906.6,1074.0 904.4,1074.0 903.6,1071.0 901.4,1071.0 900.6,1071.0 898.4,1071.0 897.6,1071.0 895.4,1071.0 894.6,1068.0 892.4,1068.0 891.6,1077.0 889.4,1077.0 888.6,1062.0 886.4,1062.0 885.6,1068.0 883.4,1068.0 882.6,1068.0 880.4,1068.0 879.6,1068.0 877.4,1068.0 876.6,1065.0 874.4,1065.0 873.6,1065.0 871.4,1065.0 870.6,1068.0 868.4,1068.0 867.6,1062.0 865.4,1062.0 864.6,1056.0 862.4,1056.0 861.6,1062.0 859.4,1062.0 858.6,1065.0 856.4,1065.0 855.6,1065.0 853.4,1065.0 852.6,1065.0 850.4,1065.0 849.6,1062.0 847.4,1062.0 846.6,1062.0 844.4,1062.0 843.6,1062.0 841.4,1062.0 840.6,1068.0 838.4,1068.0 837.6,1056.0 835.4,1056.0 834.6,1074.0 832.4,1074.0 831.6,1053.0 829.4,1053.0 828.6,1056.0 826.4,1056.0 825.6,1056.0 823.4,1056.0 822.6,1056.0 820.4,1056.0 819.6,1050.0 817.4,1050.0 816.6,1053.0 814.4,1053.0 813.6,1053.0 811.4,1053.0 810.6,1071.0 808.4,1071.0 807.6,1062.0 805.4,1062.0 804.6,1059.0 802.4,1059.0 801.6,1059.0 799.4,1059.0 798.6,1059.0 796.4,1059.0 795.6,1056.0 793.4,1056.0 792.6,1065.0 790.4,1065.0 789.6,1068.0 787.4,1068.0 786.6,1062.0 784.4,1062.0 783.6,1065.0 781.4,1065.0 780.6,1065.0 778.4,1065.0 777.6,1062.0 775.4,1062.0 774.6,1074.0 772.4,1074.0 771.6,1068.0 769.4,1068.0 768.6,1065.0 766.4,1065.0 765.6,1068.0 763.4,1068.0 762.6,1065.0 760.4,1065.0 759.6,1065.0 757.4,1065.0 756.6,1065.0 754.4,1065.0 753.6,1062.0 751.4,1062.0 750.6,1068.0 748.4,1068.0 747.6,1068.0 745.4,1068.0 744.6,1068.0 742.4,1068.0 741.6,1071.0 739.4,1071.0 738.6,1065.0 736.4,1065.0 735.6,1065.0 733.4,1065.0 732.6,1071.0 730.4,1071.0 729.6,1068.0 727.4,1068.0 726.6,1068.0 724.4,1068.0 723.6,1071.0 721.4,1071.0 720.6,1077.0 718.4,1077.0 717.6,1071.0 715.4,1071.0 714.6,1077.0 712.4,1077.0 711.6,1077.0 709.4,1077.0 708.6,1077.0 706.4,1077.0 705.6,1077.0 703.4,1077.0 702.6,1080.0 700.4,1080.0 699.6,1071.0 697.4,1071.0 696.6,1074.0 694.4,1074.0 693.6,1074.0 691.4,1074.0 690.6,1074.0 688.4,1074.0 687.6,1074.0 685.4,1074.0 684.6,1068.0 682.4,1068.0 681.6,1077.0 679.4,1077.0 678.6,1074.0 676.4,1074.0 675.6,1068.0 673.4,1068.0 672.6,1077.0 670.4,1077.0 669.6,1080.0 667.4,1080.0 666.6,1080.0 664.4,1080.0 663.6,1077.0 661.4,1077.0 660.6,1062.0 658.4,1062.0 657.6,1062.0 655.4,1062.0 654.6,1074.0 652.4,1074.0 651.6,1059.0 649.4,1059.0 648.6,1071.0 646.4,1071.0 645.6,1068.0 643.4,1068.0 642.6,1053.0 640.4,1053.0 639.6,1065.0 637.4,1065.0 636.6,1065.0 634.4,1065.0 633.6,1062.0 631.4,1062.0 630.6,1062.0 628.4,1062.0 627.6,1062.0 625.4,1062.0 624.6,1059.0 622.4,1059.0 621.6,1047.0 619.4,1047.0 618.6,1050.0 616.4,1050.0 615.6,1050.0 613.4,1050.0 612.6,1050.0 610.4,1050.0 609.6,1050.0 607.4,1050.0 606.6,1059.0 604.4,1059.0 603.6,1053.0 601.4,1053.0 600.6,1059.0 598.4,1059.0 597.6,1056.0 595.4,1056.0 594.6,1053.0 592.4,1053.0 591.6,1047.0 589.4,1047.0 588.6,1056.0 586.4,1056.0 585.6,1047.0 583.4,1047.0 582.6,1047.0 580.4,1047.0 579.6,1050.0 577.4,1050.0 576.6,1056.0 574.4,1056.0 573.6,1050.0 571.4,1050.0 570.6,1044.0 568.4,1044.0 567.6,1047.0 565.4,1047.0 564.6,1047.0 562.4,1047.0 561.6,1059.0 559.4,1059.0 558.6,1053.0 556.4,1053.0 555.6,1053.0 553.4,1053.0 552.6,1050.0 550.4,1050.0 549.6,1047.0 547.4,1047.0 546.6,1044.0 544.4,1044.0 543.6,1044.0 541.4,1044.0 540.6,1047.0 538.4,1047.0 537.6,1047.0 535.4,1047.0 534.6,1050.0 532.4,1050.0 531.6,1047.0 529.4,1047.0 528.6,1041.0 526.4,1041.0 525.6,1050.0 523.4,1050.0 522.6,1047.0 520.4,1047.0 519.6,1053.0 517.4,1053.0 516.6,1059.0 514.4,1059.0 513.6,1056.0 511.4,1056.0 510.6,1056.0 508.4,1056.0 507.6,1056.0 505.4,1056.0 504.6,1062.0 502.4,1062.0 501.6,1062.0 499.4,1062.0 498.6,1059.0 496.4,1059.0 495.6,1059.0 493.4,1059.0 492.6,1062.0 490.4,1062.0 489.6,1062.0 487.4,1062.0 486.6,1059.0 484.4,1059.0 483.6,1056.0 481.4,1056.0 480.6,1062.0 478.4,1062.0 477.6,1059.0 475.4,1059.0 474.6,1065.0 472.4,1065.0 471.6,1059.0 469.4,1059.0 468.6,1059.0 466.4,1059.0 465.6,1068.0 463.4,1068.0 462.6,1062.0 460.4,1062.0 459.6,1062.0 457.4,1062.0 456.6,1053.0 454.4,1053.0 453.6,1050.0 451.4,1050.0 450.6,1056.0 448.4,1056.0 447.6,1053.0 445.4,1053.0 444.6,1044.0 442.4,1044.0 441.6,1044.0 439.4,1044.0 438.6,1059.0 436.4,1059.0 435.6,1053.0 433.4,1053.0 432.6,1041.0 430.4,1041.0 429.6,1047.0 427.4,1047.0 426.6,1041.0 424.4,1041.0 423.6,1044.0 421.4,1044.0 420.6,1041.0 418.4,1041.0 417.6,1047.0 415.4,1047.0 414.6,1047.0 412.4,1047.0 411.6,1044.0 409.4,1044.0 408.6,1035.0 406.4,1035.0 405.6,1050.0 403.4,1050.0 402.6,1047.0 400.4,1047.0 399.6,1035.0 397.4,1035.0 396.6,1044.0 394.4,1044.0 393.6,1047.0 391.4,1047.0 390.6,1041.0 388.4,1041.0 387.6,1053.0 385.4,1053.0 384.6,1044.0 382.4,1044.0 381.6,1041.0 379.4,1041.0 378.6,1041.0 376.4,1041.0 375.6,1044.0 373.4,1044.0 372.6,1053.0 370.4,1053.0 369.6,1053.0 367.4,1053.0 366.6,1056.0 364.4,1056.0 363.6,1053.0 361.4,1053.0 360.6,1056.0 358.4,1056.0 357.6,1056.0 355.4,1056.0 354.6,1065.0 352.4,1065.0 351.6,1056.0 349.4,1056.0 348.6,1065.0 346.4,1065.0 345.6,1059.0 343.4,1059.0 342.6,1062.0 340.4,1062.0 339.6,1074.0 337.4,1074.0 336.6,1059.0 334.4,1059.0 333.6,1062.0 331.4,1062.0 330.6,1068.0 328.4,1068.0 327.6,1074.0 325.4,1074.0 324.6,1080.0 322.4,1080.0 321.6,1071.0 319.4,1071.0 318.6,1077.0 316.4,1077.0 315.6,1083.0 313.4,1083.0 312.6,1074.0 310.4,1074.0 309.6,1086.0 307.4,1086.0 306.6,1080.0 304.4,1080.0 303.6,1080.0 301.4,1080.0 300.6,1086.0 298.4,1086.0 297.6,1074.0 295.4,1074.0 294.6,1077.0 292.4,1077.0 291.6,1083.0 289.4,1083.0 288.6,1083.0 286.4,1083.0 285.6,1092.0 283.4,1092.0 282.6,1077.0 280.4,1077.0 279.6,1086.0 277.4,1086.0 276.6,1089.0 274.4,1089.0 273.6,1089.0 271.4,1089.0 270.6,1089.0 268.4,1089.0 267.6,1086.0 265.4,1086.0 264.6,1077.0 262.4,1077.0 261.6,1083.0 259.4,1083.0 258.6,1089.0 256.4,1089.0 255.6,1086.0 253.4,1086.0 252.6,1092.0 250.4,1092.0 249.6,1080.0 247.4,1080.0 246.6,1086.0 244.4,1086.0 243.6,1080.0 241.4,1080.0 240.6,1086.0 238.4,1086.0 237.6,1080.0 235.4,1080.0 234.6,1077.0 232.4,1077.0 231.6,1083.0 229.4,1083.0 228.6,1074.0 226.4,1074.0 225.6,1068.0 223.4,1068.0 222.6,1068.0 220.4,1068.0 219.6,1059.0 217.4,1059.0 216.6,1071.0 214.4,1071.0 213.6,1065.0 211.4,1065.0 210.6,1065.0 208.4,1065.0 207.6,1059.0 205.4,1059.0 204.6,1059.0 202.4,1059.0 201.6,1056.0 199.4,1056.0 198.6,1053.0 196.4,1053.0 195.6,1059.0 193.4,1059.0 192.6,1062.0 190.4,1062.0 189.6,1056.0 187.4,1056.0 186.6,1053.0 184.4,1053.0 183.6,1056.0 181.4,1056.0 180.6,1050.0 178.4,1050.0 177.6,1047.0 175.4,1047.0 174.6,1050.0 172.4,1050.0 171.6,1047.0 169.4,1047.0 168.6,1041.0 166.4,1041.0 165.6,1041.0 163.4,1041.0 162.6,1032.0 160.4,1032.0 159.6,1029.0 157.4,1029.0 156.6,1029.0 154.4,1029.0 153.6,1029.0 151.4,1029.0 150.6,1026.0 148.4,1026.0 147.6,1017.0 145.4,1017.0 144.6,1011.0 142.4,1011.0 141.6,1002.0 139.4,1002.0 138.6,981.0 136.4,981.0 135.6,951.0 133.4,951.0 132.6,807.0 130.4,807.0Z" fill="#8a93b2" stroke="#8a93b2" stroke-width="3.0"/>
<path d="M125,603 136.5,603 136.5,640 136,700 136,924 128.5,924 128,700 127.5,640 125,630Z" fill="#8a93b2" />
<path d="M125.5,186 131,186 131,300 125.5,300Z" fill="#ecc6cc" /><path d="M125,335 131,335 131,345 125,345Z" fill="#ecc9cf" /><path d="M131.2,184 133,182 137.5,182 139.5,184 139.5,300 139,345 135,372 130,345 131.2,300Z" fill="#c26070" /><path d="M125,425 140.2,425 140.2,540 125,540Z" fill="#c26070" /><path d="M130.5,432 133.5,432 133.5,520 130.5,520Z" fill="#d9929f" /><path d="M133,540 137.5,540 135,556Z" fill="#c26070" /><path d="M139,576 142.6,576 143,640 139,640Z" fill="#c26070" /><path d="M140.4,394 142.4,394 142.4,520 140.4,520Z" fill="#ffffff" />
<line x1="585.6" y1="1194" x2="585.6" y2="1330.5" stroke="#555" stroke-width="4.5"/><line x1="643.3" y1="1190" x2="643.3" y2="1330.5" stroke="#555" stroke-width="4.5"/><line x1="664.6" y1="1108" x2="664.6" y2="1330.5" stroke="#555" stroke-width="4.5"/><line x1="865.9" y1="1195" x2="865.9" y2="1330.5" stroke="#555" stroke-width="4.5"/><line x1="1013.9" y1="1198.6" x2="1013.9" y2="1330.5" stroke="#555" stroke-width="4.5"/><line x1="1140.9" y1="1198.6" x2="1140.9" y2="1330.5" stroke="#555" stroke-width="4.5"/><line x1="1184.9" y1="1214.7" x2="1184.9" y2="1330.5" stroke="#555" stroke-width="4.5"/><line x1="1221.1" y1="1201" x2="1221.1" y2="1330.5" stroke="#555" stroke-width="4.5"/><line x1="1233" y1="1207" x2="1233" y2="1330.5" stroke="#555" stroke-width="4.5"/><line x1="638.8" y1="1108" x2="638.8" y2="1330.5" stroke="#c8d038" stroke-width="4.5"/><line x1="733" y1="1130" x2="733" y2="1330.5" stroke="#c8d038" stroke-width="4.5"/><line x1="1043.7" y1="1141" x2="1043.7" y2="1330.5" stroke="#c8d038" stroke-width="4.5"/><line x1="1238.5" y1="1141" x2="1238.5" y2="1330.5" stroke="#c8d038" stroke-width="4.5"/><line x1="1302.6" y1="1175" x2="1302.6" y2="1330.5" stroke="#c8d038" stroke-width="4.5"/>
</g></g>
<g>
<line x1="201.8" y1="1330.5" x2="201.8" y2="1351" stroke="#000" stroke-width="5.5"/><line x1="359.4" y1="1330.5" x2="359.4" y2="1351" stroke="#000" stroke-width="5.5"/><line x1="517.0" y1="1330.5" x2="517.0" y2="1351" stroke="#000" stroke-width="5.5"/><line x1="674.6" y1="1330.5" x2="674.6" y2="1351" stroke="#000" stroke-width="5.5"/><line x1="832.2" y1="1330.5" x2="832.2" y2="1351" stroke="#000" stroke-width="5.5"/><line x1="989.8" y1="1330.5" x2="989.8" y2="1351" stroke="#000" stroke-width="5.5"/><line x1="1147.4" y1="1330.5" x2="1147.4" y2="1351" stroke="#000" stroke-width="5.5"/><line x1="1305.0" y1="1330.5" x2="1305.0" y2="1351" stroke="#000" stroke-width="5.5"/><line x1="122.0" y1="1330.5" x2="122.0" y2="1341" stroke="#000" stroke-width="5.5"/><line x1="280.6" y1="1330.5" x2="280.6" y2="1341" stroke="#000" stroke-width="5.5"/><line x1="438.2" y1="1330.5" x2="438.2" y2="1341" stroke="#000" stroke-width="5.5"/><line x1="595.8" y1="1330.5" x2="595.8" y2="1341" stroke="#000" stroke-width="5.5"/><line x1="753.4" y1="1330.5" x2="753.4" y2="1341" stroke="#000" stroke-width="5.5"/><line x1="911.0" y1="1330.5" x2="911.0" y2="1341" stroke="#000" stroke-width="5.5"/><line x1="1068.6" y1="1330.5" x2="1068.6" y2="1341" stroke="#000" stroke-width="5.5"/><line x1="1226.2" y1="1330.5" x2="1226.2" y2="1341" stroke="#000" stroke-width="5.5"/>
<rect x="122" y="17" width="1184" height="1313.5" fill="none" stroke="#000" stroke-width="6"/>
</g>
<g>
<text x="201.8" y="1419.5" text-anchor="middle" class="tl">10</text><text x="359.4" y="1419.5" text-anchor="middle" class="tl">20</text><text x="517.0" y="1419.5" text-anchor="middle" class="tl">30</text><text x="674.6" y="1419.5" text-anchor="middle" class="tl">40</text><text x="832.2" y="1419.5" text-anchor="middle" class="tl">50</text><text x="989.8" y="1419.5" text-anchor="middle" class="tl">60</text><text x="1147.4" y="1419.5" text-anchor="middle" class="tl">70</text><text x="1305.0" y="1419.5" text-anchor="middle" class="tl">80</text>
<text class="lab" transform="translate(190.37,288.2) scale(0.9056,1)" fill="#5a5a5a">7</text><text class="lab" transform="translate(227.41,288.2) scale(0.8941,1)" fill="#5a5a5a">0</text><text class="lab" transform="translate(263.21,288.2) scale(0.8941,1)" fill="#5a5a5a">0</text><text class="lab" transform="translate(314.20,288.2) scale(0.9894,1)" fill="#5a5a5a">°</text><text class="lab" transform="translate(344.47,288.2) scale(0.9519,1)" fill="#5a5a5a">C</text>
<text class="lab" transform="translate(192.04,471.3) scale(0.8681,1)" fill="#c8d038">6</text><text class="lab" transform="translate(227.41,471.3) scale(0.8941,1)" fill="#c8d038">0</text><text class="lab" transform="translate(263.21,471.3) scale(0.8941,1)" fill="#c8d038">0</text><text class="lab" transform="translate(314.20,471.3) scale(0.9894,1)" fill="#c8d038">°</text><text class="lab" transform="translate(344.47,471.3) scale(0.9519,1)" fill="#c8d038">C</text>
<text class="lab" transform="translate(191.58,644.7) scale(0.8951,1)" fill="#5ea8b9">5</text><text class="lab" transform="translate(227.41,644.7) scale(0.8941,1)" fill="#5ea8b9">0</text><text class="lab" transform="translate(263.21,644.7) scale(0.8941,1)" fill="#5ea8b9">0</text><text class="lab" transform="translate(314.20,644.7) scale(0.9894,1)" fill="#5ea8b9">°</text><text class="lab" transform="translate(344.47,644.7) scale(0.9519,1)" fill="#5ea8b9">C</text>
<text class="lab" transform="translate(191.91,824.7) scale(0.8523,1)" fill="#c26070">4</text><text class="lab" transform="translate(227.41,824.7) scale(0.8941,1)" fill="#c26070">0</text><text class="lab" transform="translate(263.21,824.7) scale(0.8941,1)" fill="#c26070">0</text><text class="lab" transform="translate(314.20,824.7) scale(0.9894,1)" fill="#c26070">°</text><text class="lab" transform="translate(344.47,824.7) scale(0.9519,1)" fill="#c26070">C</text>
<text class="lab" transform="translate(191.39,994) scale(0.9130,1)" fill="#8a93b2">2</text><text class="lab" transform="translate(226.07,994) scale(0.9056,1)" fill="#8a93b2">7</text><text class="lab" transform="translate(263.08,994) scale(0.8951,1)" fill="#8a93b2">5</text><text class="lab" transform="translate(314.20,994) scale(0.9894,1)" fill="#8a93b2">°</text><text class="lab" transform="translate(344.47,994) scale(0.9519,1)" fill="#8a93b2">C</text>
<text transform="translate(143,1145.4) scale(0.967,1)" style="font-size:55px;font-weight:bold" fill="#c8d038">PDF# 00-015-0457</text>
<text transform="translate(138,1205.3) scale(0.98,1)" style="font-size:55px;font-weight:bold" fill="#c8d038">α-MoC</text><text transform="translate(309,1218) scale(0.82,1)" style="font-size:39px;font-weight:bold" fill="#c8d038">1−x</text>
<text x="616" y="1545.3" style="font-size:85px;font-weight:bold" fill="#000">2<tspan style="font-style:italic">θ</tspan> <tspan style="font-weight:normal" dx="-3">(°)</tspan></text>
<text transform="translate(70.8,937) rotate(-90)" x="0" y="0" style="font-size:84px;font-weight:bold" fill="#000">Intensity <tspan style="font-weight:normal">(</tspan>a.u.<tspan style="font-weight:normal">)</tspan></text>
</g>
</svg>
</body></html>
